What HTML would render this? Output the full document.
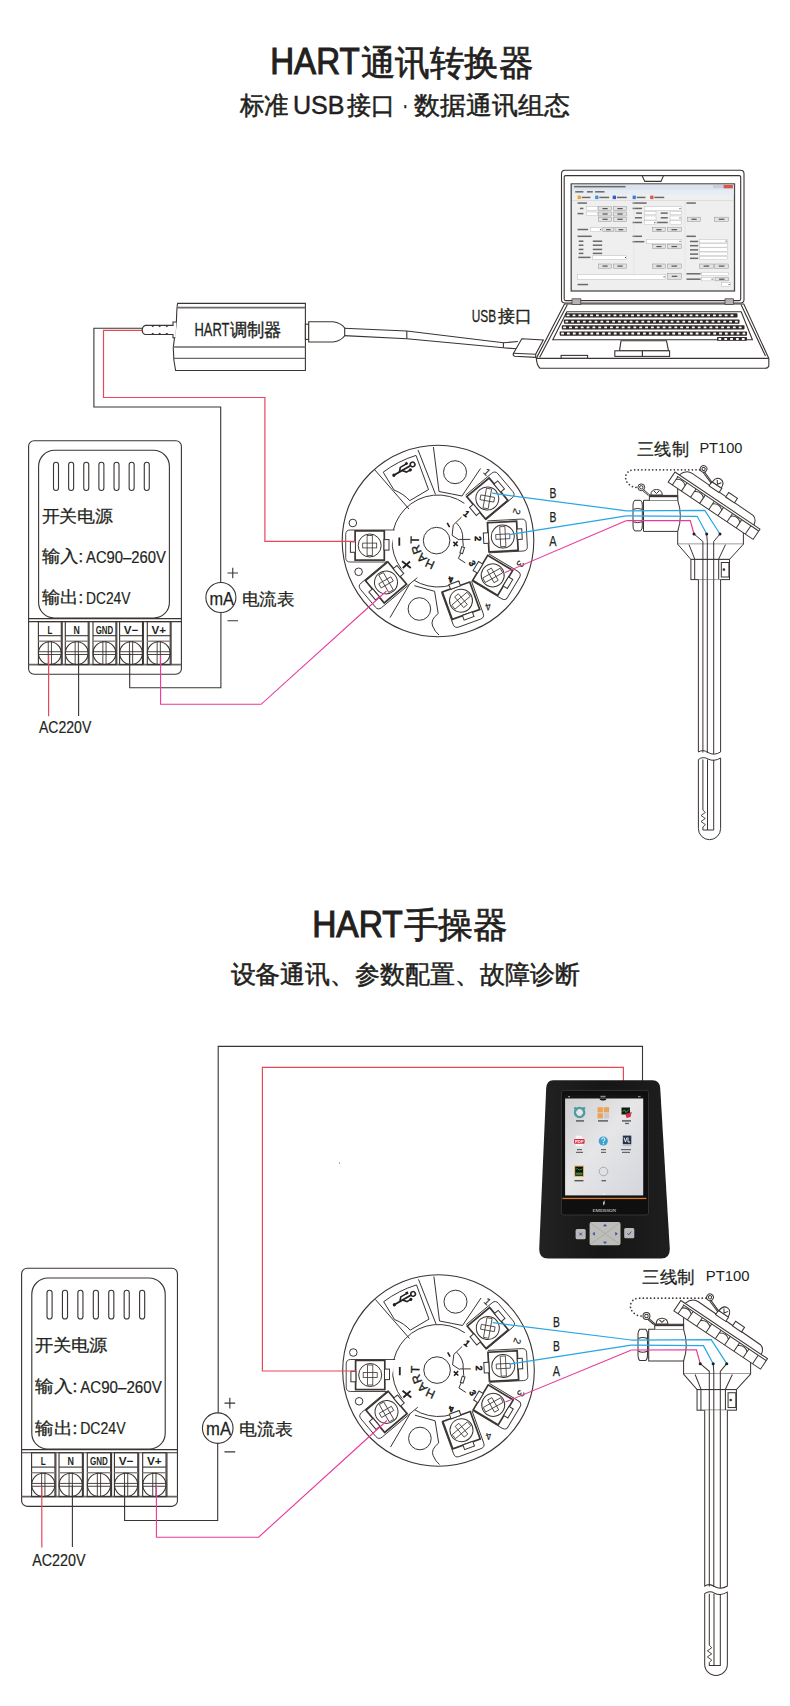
<!DOCTYPE html><html><head><meta charset="utf-8"><style>html,body{margin:0;padding:0;background:#fff;}svg{display:block;font-family:"Liberation Sans",sans-serif;}</style></head><body><svg width="790" height="1706" viewBox="0 0 790 1706"><rect width="790" height="1706" fill="#fff"/><text x="270.2" y="74.4" font-size="37.2" fill="#231f20" stroke="#231f20" stroke-width="1.1" textLength="89.5" lengthAdjust="spacingAndGlyphs" >HART</text>
<text x="360.5" y="74.5" font-size="35" fill="#231f20" stroke="#231f20" stroke-width="0.7" textLength="173" lengthAdjust="spacingAndGlyphs" >通讯转换器</text>
<text x="239.5" y="113.5" font-size="25" fill="#231f20" stroke="#231f20" stroke-width="0.5" textLength="49" lengthAdjust="spacingAndGlyphs" >标准</text>
<text x="293" y="113.5" font-size="25" fill="#231f20" stroke="#231f20" stroke-width="0.45" textLength="51.5" lengthAdjust="spacingAndGlyphs" >USB</text>
<text x="347" y="113.5" font-size="25" fill="#231f20" stroke="#231f20" stroke-width="0.5" textLength="48" lengthAdjust="spacingAndGlyphs" >接口</text>
<text x="402.6" y="113.5" font-size="25" fill="#231f20" stroke="#231f20" stroke-width="0.5" textLength="5.5" lengthAdjust="spacingAndGlyphs" >·</text>
<text x="414" y="113.5" font-size="25" fill="#231f20" stroke="#231f20" stroke-width="0.5" textLength="155.5" lengthAdjust="spacingAndGlyphs" >数据通讯组态</text>
<text x="312.2" y="936.7" font-size="37.2" fill="#231f20" stroke="#231f20" stroke-width="1.1" textLength="90.5" lengthAdjust="spacingAndGlyphs" >HART</text>
<text x="403.5" y="937" font-size="35" fill="#231f20" stroke="#231f20" stroke-width="0.7" textLength="104" lengthAdjust="spacingAndGlyphs" >手操器</text>
<text x="230.5" y="982.5" font-size="25" fill="#231f20" stroke="#231f20" stroke-width="0.5" textLength="349" lengthAdjust="spacingAndGlyphs" >设备通讯、参数配置、故障诊断</text>
<g transform="">
<g fill="none" stroke="#3a3432" stroke-width="1.1">
<rect x="28.6" y="440.8" width="152.8" height="233.4" rx="5.5"/>
<path d="M38.6,602.5 V466.3 A16,16 0 0 1 54.6,450.3 H153.4 A16,16 0 0 1 169.4,466.3 V602.5 A15.5,15.5 0 0 1 153.9,618 H54.1 A15.5,15.5 0 0 1 38.6,602.5 Z"/>
<rect x="53.5" y="462.3" width="5" height="28.2" rx="2.5"/>
<rect x="68.63" y="462.3" width="5" height="28.2" rx="2.5"/>
<rect x="83.76" y="462.3" width="5" height="28.2" rx="2.5"/>
<rect x="98.89" y="462.3" width="5" height="28.2" rx="2.5"/>
<rect x="114.02" y="462.3" width="5" height="28.2" rx="2.5"/>
<rect x="129.15" y="462.3" width="5" height="28.2" rx="2.5"/>
<rect x="144.28" y="462.3" width="5" height="28.2" rx="2.5"/>
<line x1="28.6" y1="618.6" x2="181.4" y2="618.6"/>
<line x1="28.6" y1="621.6" x2="181.4" y2="621.6"/>
<line x1="28.6" y1="664.6" x2="181.4" y2="664.6" stroke-width="1.6" stroke="#6b6462"/>
<rect x="38.4" y="621.6" width="22.9" height="43"/>
<line x1="38.4" y1="635.7" x2="61.3" y2="635.7"/>
<line x1="38.4" y1="641.2" x2="61.3" y2="641.2" stroke="#8a8482" stroke-width="1.4"/>
<line x1="62.2" y1="621.6" x2="62.2" y2="664.6"/>
<line x1="48.25" y1="641.2" x2="48.25" y2="664.6" stroke-width="0.9"/>
<line x1="51.45" y1="641.2" x2="51.45" y2="664.6" stroke-width="0.9"/>
<line x1="38.4" y1="651.7" x2="61.3" y2="651.7" stroke-width="0.9"/>
<line x1="38.4" y1="654.5" x2="61.3" y2="654.5" stroke-width="0.9"/>
<circle cx="49.85" cy="653.1" r="11.4"/>
<rect x="65.3" y="621.6" width="22.9" height="43"/>
<line x1="65.3" y1="635.7" x2="88.2" y2="635.7"/>
<line x1="65.3" y1="641.2" x2="88.2" y2="641.2" stroke="#8a8482" stroke-width="1.4"/>
<line x1="89.1" y1="621.6" x2="89.1" y2="664.6"/>
<line x1="75.15" y1="641.2" x2="75.15" y2="664.6" stroke-width="0.9"/>
<line x1="78.35" y1="641.2" x2="78.35" y2="664.6" stroke-width="0.9"/>
<line x1="65.3" y1="651.7" x2="88.2" y2="651.7" stroke-width="0.9"/>
<line x1="65.3" y1="654.5" x2="88.2" y2="654.5" stroke-width="0.9"/>
<circle cx="76.75" cy="653.1" r="11.4"/>
<rect x="93" y="621.6" width="22.9" height="43"/>
<line x1="93" y1="635.7" x2="115.9" y2="635.7"/>
<line x1="93" y1="641.2" x2="115.9" y2="641.2" stroke="#8a8482" stroke-width="1.4"/>
<line x1="116.8" y1="621.6" x2="116.8" y2="664.6"/>
<line x1="102.85" y1="641.2" x2="102.85" y2="664.6" stroke-width="0.9"/>
<line x1="106.05" y1="641.2" x2="106.05" y2="664.6" stroke-width="0.9"/>
<line x1="93" y1="651.7" x2="115.9" y2="651.7" stroke-width="0.9"/>
<line x1="93" y1="654.5" x2="115.9" y2="654.5" stroke-width="0.9"/>
<circle cx="104.45" cy="653.1" r="11.4"/>
<rect x="119.6" y="621.6" width="22.9" height="43"/>
<line x1="119.6" y1="635.7" x2="142.5" y2="635.7"/>
<line x1="119.6" y1="641.2" x2="142.5" y2="641.2" stroke="#8a8482" stroke-width="1.4"/>
<line x1="143.4" y1="621.6" x2="143.4" y2="664.6"/>
<line x1="129.45" y1="641.2" x2="129.45" y2="664.6" stroke-width="0.9"/>
<line x1="132.65" y1="641.2" x2="132.65" y2="664.6" stroke-width="0.9"/>
<line x1="119.6" y1="651.7" x2="142.5" y2="651.7" stroke-width="0.9"/>
<line x1="119.6" y1="654.5" x2="142.5" y2="654.5" stroke-width="0.9"/>
<circle cx="131.05" cy="653.1" r="11.4"/>
<rect x="147.3" y="621.6" width="22.9" height="43"/>
<line x1="147.3" y1="635.7" x2="170.2" y2="635.7"/>
<line x1="147.3" y1="641.2" x2="170.2" y2="641.2" stroke="#8a8482" stroke-width="1.4"/>
<line x1="171.1" y1="621.6" x2="171.1" y2="664.6"/>
<line x1="157.15" y1="641.2" x2="157.15" y2="664.6" stroke-width="0.9"/>
<line x1="160.35" y1="641.2" x2="160.35" y2="664.6" stroke-width="0.9"/>
<line x1="147.3" y1="651.7" x2="170.2" y2="651.7" stroke-width="0.9"/>
<line x1="147.3" y1="654.5" x2="170.2" y2="654.5" stroke-width="0.9"/>
<circle cx="158.75" cy="653.1" r="11.4"/>
</g>
<text x="41.5" y="521.8" font-size="17" fill="#231f20" stroke="#231f20" stroke-width="0.25" textLength="71.5" lengthAdjust="spacingAndGlyphs" >开关电源</text>
<text x="41.5" y="562" font-size="17" fill="#231f20" stroke="#231f20" stroke-width="0.25" textLength="42" lengthAdjust="spacingAndGlyphs" >输入:</text>
<text x="86" y="562.8" font-size="16.8" fill="#231f20" stroke="#231f20" stroke-width="0.2" textLength="80" lengthAdjust="spacingAndGlyphs" >AC90–260V</text>
<text x="41.5" y="603" font-size="17" fill="#231f20" stroke="#231f20" stroke-width="0.25" textLength="42" lengthAdjust="spacingAndGlyphs" >输出:</text>
<text x="86" y="603.6" font-size="16.8" fill="#231f20" stroke="#231f20" stroke-width="0.2" textLength="44.5" lengthAdjust="spacingAndGlyphs" >DC24V</text>
<text x="47.4" y="634" font-size="11" fill="#231f20" font-weight="bold" textLength="4.9" lengthAdjust="spacingAndGlyphs" >L</text>
<text x="73.6" y="634" font-size="11" fill="#231f20" font-weight="bold" textLength="6.3" lengthAdjust="spacingAndGlyphs" >N</text>
<text x="95.7" y="634" font-size="11" fill="#231f20" font-weight="bold" textLength="17.5" lengthAdjust="spacingAndGlyphs" >GND</text>
<text x="123.8" y="634" font-size="11" fill="#231f20" font-weight="bold" textLength="14.5" lengthAdjust="spacingAndGlyphs" >V−</text>
<text x="151.5" y="634" font-size="11" fill="#231f20" font-weight="bold" textLength="14.5" lengthAdjust="spacingAndGlyphs" >V+</text>
<text x="39" y="733" font-size="17" fill="#231f20" stroke="#231f20" stroke-width="0.2" textLength="52.3" lengthAdjust="spacingAndGlyphs" >AC220V</text>
<circle cx="220.9" cy="597.5" r="15" fill="#fff" stroke="#3a3432" stroke-width="1.1"/>
<text x="209.5" y="604.5" font-size="18.5" fill="#231f20" stroke="#231f20" stroke-width="0.25" textLength="24.5" lengthAdjust="spacingAndGlyphs" >mA</text>
<path d="M227.5,573 H238 M232.75,567.8 V578.2 M227.5,620.8 H238" stroke="#3a3432" stroke-width="1.1" fill="none"/>
<text x="242" y="604.5" font-size="17" fill="#231f20" stroke="#231f20" stroke-width="0.25" textLength="52.5" lengthAdjust="spacingAndGlyphs" >电流表</text>
</g>
<g transform="matrix(1.02,0,0,1.02,-7.572,818.68)">
<g fill="none" stroke="#3a3432" stroke-width="1.1">
<rect x="28.6" y="440.8" width="152.8" height="233.4" rx="5.5"/>
<path d="M38.6,602.5 V466.3 A16,16 0 0 1 54.6,450.3 H153.4 A16,16 0 0 1 169.4,466.3 V602.5 A15.5,15.5 0 0 1 153.9,618 H54.1 A15.5,15.5 0 0 1 38.6,602.5 Z"/>
<rect x="53.5" y="462.3" width="5" height="28.2" rx="2.5"/>
<rect x="68.63" y="462.3" width="5" height="28.2" rx="2.5"/>
<rect x="83.76" y="462.3" width="5" height="28.2" rx="2.5"/>
<rect x="98.89" y="462.3" width="5" height="28.2" rx="2.5"/>
<rect x="114.02" y="462.3" width="5" height="28.2" rx="2.5"/>
<rect x="129.15" y="462.3" width="5" height="28.2" rx="2.5"/>
<rect x="144.28" y="462.3" width="5" height="28.2" rx="2.5"/>
<line x1="28.6" y1="618.6" x2="181.4" y2="618.6"/>
<line x1="28.6" y1="621.6" x2="181.4" y2="621.6"/>
<line x1="28.6" y1="664.6" x2="181.4" y2="664.6" stroke-width="1.6" stroke="#6b6462"/>
<rect x="38.4" y="621.6" width="22.9" height="43"/>
<line x1="38.4" y1="635.7" x2="61.3" y2="635.7"/>
<line x1="38.4" y1="641.2" x2="61.3" y2="641.2" stroke="#8a8482" stroke-width="1.4"/>
<line x1="62.2" y1="621.6" x2="62.2" y2="664.6"/>
<line x1="48.25" y1="641.2" x2="48.25" y2="664.6" stroke-width="0.9"/>
<line x1="51.45" y1="641.2" x2="51.45" y2="664.6" stroke-width="0.9"/>
<line x1="38.4" y1="651.7" x2="61.3" y2="651.7" stroke-width="0.9"/>
<line x1="38.4" y1="654.5" x2="61.3" y2="654.5" stroke-width="0.9"/>
<circle cx="49.85" cy="653.1" r="11.4"/>
<rect x="65.3" y="621.6" width="22.9" height="43"/>
<line x1="65.3" y1="635.7" x2="88.2" y2="635.7"/>
<line x1="65.3" y1="641.2" x2="88.2" y2="641.2" stroke="#8a8482" stroke-width="1.4"/>
<line x1="89.1" y1="621.6" x2="89.1" y2="664.6"/>
<line x1="75.15" y1="641.2" x2="75.15" y2="664.6" stroke-width="0.9"/>
<line x1="78.35" y1="641.2" x2="78.35" y2="664.6" stroke-width="0.9"/>
<line x1="65.3" y1="651.7" x2="88.2" y2="651.7" stroke-width="0.9"/>
<line x1="65.3" y1="654.5" x2="88.2" y2="654.5" stroke-width="0.9"/>
<circle cx="76.75" cy="653.1" r="11.4"/>
<rect x="93" y="621.6" width="22.9" height="43"/>
<line x1="93" y1="635.7" x2="115.9" y2="635.7"/>
<line x1="93" y1="641.2" x2="115.9" y2="641.2" stroke="#8a8482" stroke-width="1.4"/>
<line x1="116.8" y1="621.6" x2="116.8" y2="664.6"/>
<line x1="102.85" y1="641.2" x2="102.85" y2="664.6" stroke-width="0.9"/>
<line x1="106.05" y1="641.2" x2="106.05" y2="664.6" stroke-width="0.9"/>
<line x1="93" y1="651.7" x2="115.9" y2="651.7" stroke-width="0.9"/>
<line x1="93" y1="654.5" x2="115.9" y2="654.5" stroke-width="0.9"/>
<circle cx="104.45" cy="653.1" r="11.4"/>
<rect x="119.6" y="621.6" width="22.9" height="43"/>
<line x1="119.6" y1="635.7" x2="142.5" y2="635.7"/>
<line x1="119.6" y1="641.2" x2="142.5" y2="641.2" stroke="#8a8482" stroke-width="1.4"/>
<line x1="143.4" y1="621.6" x2="143.4" y2="664.6"/>
<line x1="129.45" y1="641.2" x2="129.45" y2="664.6" stroke-width="0.9"/>
<line x1="132.65" y1="641.2" x2="132.65" y2="664.6" stroke-width="0.9"/>
<line x1="119.6" y1="651.7" x2="142.5" y2="651.7" stroke-width="0.9"/>
<line x1="119.6" y1="654.5" x2="142.5" y2="654.5" stroke-width="0.9"/>
<circle cx="131.05" cy="653.1" r="11.4"/>
<rect x="147.3" y="621.6" width="22.9" height="43"/>
<line x1="147.3" y1="635.7" x2="170.2" y2="635.7"/>
<line x1="147.3" y1="641.2" x2="170.2" y2="641.2" stroke="#8a8482" stroke-width="1.4"/>
<line x1="171.1" y1="621.6" x2="171.1" y2="664.6"/>
<line x1="157.15" y1="641.2" x2="157.15" y2="664.6" stroke-width="0.9"/>
<line x1="160.35" y1="641.2" x2="160.35" y2="664.6" stroke-width="0.9"/>
<line x1="147.3" y1="651.7" x2="170.2" y2="651.7" stroke-width="0.9"/>
<line x1="147.3" y1="654.5" x2="170.2" y2="654.5" stroke-width="0.9"/>
<circle cx="158.75" cy="653.1" r="11.4"/>
</g>
<text x="41.5" y="521.8" font-size="17" fill="#231f20" stroke="#231f20" stroke-width="0.25" textLength="71.5" lengthAdjust="spacingAndGlyphs" >开关电源</text>
<text x="41.5" y="562" font-size="17" fill="#231f20" stroke="#231f20" stroke-width="0.25" textLength="42" lengthAdjust="spacingAndGlyphs" >输入:</text>
<text x="86" y="562.8" font-size="16.8" fill="#231f20" stroke="#231f20" stroke-width="0.2" textLength="80" lengthAdjust="spacingAndGlyphs" >AC90–260V</text>
<text x="41.5" y="603" font-size="17" fill="#231f20" stroke="#231f20" stroke-width="0.25" textLength="42" lengthAdjust="spacingAndGlyphs" >输出:</text>
<text x="86" y="603.6" font-size="16.8" fill="#231f20" stroke="#231f20" stroke-width="0.2" textLength="44.5" lengthAdjust="spacingAndGlyphs" >DC24V</text>
<text x="47.4" y="634" font-size="11" fill="#231f20" font-weight="bold" textLength="4.9" lengthAdjust="spacingAndGlyphs" >L</text>
<text x="73.6" y="634" font-size="11" fill="#231f20" font-weight="bold" textLength="6.3" lengthAdjust="spacingAndGlyphs" >N</text>
<text x="95.7" y="634" font-size="11" fill="#231f20" font-weight="bold" textLength="17.5" lengthAdjust="spacingAndGlyphs" >GND</text>
<text x="123.8" y="634" font-size="11" fill="#231f20" font-weight="bold" textLength="14.5" lengthAdjust="spacingAndGlyphs" >V−</text>
<text x="151.5" y="634" font-size="11" fill="#231f20" font-weight="bold" textLength="14.5" lengthAdjust="spacingAndGlyphs" >V+</text>
<text x="39" y="733" font-size="17" fill="#231f20" stroke="#231f20" stroke-width="0.2" textLength="52.3" lengthAdjust="spacingAndGlyphs" >AC220V</text>
<circle cx="220.9" cy="597.5" r="15" fill="#fff" stroke="#3a3432" stroke-width="1.1"/>
<text x="209.5" y="604.5" font-size="18.5" fill="#231f20" stroke="#231f20" stroke-width="0.25" textLength="24.5" lengthAdjust="spacingAndGlyphs" >mA</text>
<path d="M227.5,573 H238 M232.75,567.8 V578.2 M227.5,620.8 H238" stroke="#3a3432" stroke-width="1.1" fill="none"/>
<text x="242" y="604.5" font-size="17" fill="#231f20" stroke="#231f20" stroke-width="0.25" textLength="52.5" lengthAdjust="spacingAndGlyphs" >电流表</text>
</g>
<g transform="">
<circle cx="438.0" cy="541.0" r="95.8" fill="#fff" stroke="#3a3432" stroke-width="1.1"/>
<path d="M459.60,581.62 A46,46 0 1 1 464.38,503.32" fill="none" stroke="#3a3432" stroke-width="1"/>
<path d="M374.9,470 L409,509 M418,449.9 L435.5,494.4 M433.4,447 L439,491.5 M480.5,468.5 L462,496" fill="none" stroke="#3a3432" stroke-width="1"/>
<path d="M383.2,472.2 Q398,461 416,455.4 L428.5,489.6 L409.7,500.7 Q404,494 394,490 Z" fill="none" stroke="#3a3432" stroke-width="1"/>
<path d="M439,491.5 Q452,494 462,496" fill="none" stroke="#3a3432" stroke-width="1"/>
<circle cx="455" cy="472.2" r="11.5" fill="none" stroke="#3a3432" stroke-width="1"/>
<g transform="translate(403.8,469.5) rotate(-30)" fill="none" stroke="#231f20" stroke-width="2" stroke-linecap="round"><path d="M-11,0 H7"/><path d="M-5,0 L-2,-3.6 H4" stroke-width="1.6"/><path d="M-2,0 L1,3.6 H4.5" stroke-width="1.6"/><circle cx="10.2" cy="0" r="2.3" stroke-width="1.5"/><circle cx="-11.5" cy="0" r="1.6" fill="#231f20" stroke="none"/><rect x="4" y="-5.2" width="2.6" height="2.6" fill="#231f20" stroke="none"/><circle cx="5.5" cy="3.6" r="1.6" fill="#231f20" stroke="none"/></g>
<path d="M412.3,579.6 L390,617.6 M414.4,585.7 L434.6,591.3 L438.2,613.5 Q430,620 432.6,626 Q435,632 439,635" fill="none" stroke="#3a3432" stroke-width="1"/>
<circle cx="419.4" cy="609" r="11.3" fill="none" stroke="#3a3432" stroke-width="1"/>
<circle cx="352.8" cy="523" r="3.8" fill="none" stroke="#3a3432" stroke-width="1"/>
<circle cx="358.6" cy="571.8" r="3.8" fill="none" stroke="#3a3432" stroke-width="1"/>
<circle cx="436.6" cy="540.6" r="13.3" fill="#fff" stroke="#3a3432" stroke-width="1"/>
<g transform="translate(369.7,545.5) rotate(180)">
<path d="M-18.5,-16.5 H19.5 Q24,-16.5 24,-12 V11 Q24,15.5 19.5,15.5 H-25" fill="#fff" stroke="#3a3432" stroke-width="0.9"/>
<rect x="-14.6" y="-14.6" width="29.2" height="29.2" fill="#fff" stroke="#3a3432" stroke-width="1.7"/>
<rect x="14.3" y="-6.8" width="5" height="10.5" fill="#fff" stroke="#3a3432" stroke-width="1"/>
<rect x="-19.3" y="-4.6" width="5" height="10.5" fill="#fff" stroke="#3a3432" stroke-width="1"/>
<circle r="11.5" fill="#fff" stroke="#3a3432" stroke-width="1"/>
<g transform="rotate(0)" fill="none" stroke="#3a3432" stroke-width="0.8">
<rect x="-2.6" y="-10" width="5.2" height="20"/><rect x="-7" y="-2.4" width="14" height="4.8"/>
</g></g>
<g transform="translate(386,582.4) rotate(140)">
<path d="M-27,-16.5 H19.5 Q24,-16.5 24,-12 V11 Q24,15.5 19.5,15.5 H-14.5" fill="#fff" stroke="#3a3432" stroke-width="0.9"/>
<rect x="-14.6" y="-14.6" width="29.2" height="29.2" fill="#fff" stroke="#3a3432" stroke-width="1.7"/>
<rect x="14.3" y="-6.8" width="5" height="10.5" fill="#fff" stroke="#3a3432" stroke-width="1"/>
<rect x="-19.3" y="-4.6" width="5" height="10.5" fill="#fff" stroke="#3a3432" stroke-width="1"/>
<circle r="11.5" fill="#fff" stroke="#3a3432" stroke-width="1"/>
<g transform="rotate(10)" fill="none" stroke="#3a3432" stroke-width="0.8">
<rect x="-2.6" y="-10" width="5.2" height="20"/><rect x="-7" y="-2.4" width="14" height="4.8"/>
</g></g>
<g transform="translate(487.3,498.5) rotate(-40)">
<path d="M-14.5,-16.5 H19.5 Q24,-16.5 24,-12 V11 Q24,15.5 19.5,15.5 H-14.5" fill="#fff" stroke="#3a3432" stroke-width="0.9"/>
<rect x="-14.6" y="-14.6" width="29.2" height="29.2" fill="#fff" stroke="#3a3432" stroke-width="1.7"/>
<rect x="14.3" y="-6.8" width="5" height="10.5" fill="#fff" stroke="#3a3432" stroke-width="1"/>
<rect x="-19.3" y="-4.6" width="5" height="10.5" fill="#fff" stroke="#3a3432" stroke-width="1"/>
<circle r="11.5" fill="#fff" stroke="#3a3432" stroke-width="1"/>
<g transform="rotate(50)" fill="none" stroke="#3a3432" stroke-width="0.8">
<rect x="-2.6" y="-10" width="5.2" height="20"/><rect x="-7" y="-2.4" width="14" height="4.8"/>
</g></g>
<g transform="translate(502.8,536.6) rotate(-3)">
<path d="M-14.5,-16.5 H19.5 Q24,-16.5 24,-12 V11 Q24,15.5 19.5,15.5 H-14.5" fill="#fff" stroke="#3a3432" stroke-width="0.9"/>
<rect x="-14.6" y="-14.6" width="29.2" height="29.2" fill="#fff" stroke="#3a3432" stroke-width="1.7"/>
<rect x="14.3" y="-6.8" width="5" height="10.5" fill="#fff" stroke="#3a3432" stroke-width="1"/>
<rect x="-19.3" y="-4.6" width="5" height="10.5" fill="#fff" stroke="#3a3432" stroke-width="1"/>
<circle r="11.5" fill="#fff" stroke="#3a3432" stroke-width="1"/>
<g transform="rotate(0)" fill="none" stroke="#3a3432" stroke-width="0.8">
<rect x="-2.6" y="-10" width="5.2" height="20"/><rect x="-7" y="-2.4" width="14" height="4.8"/>
</g></g>
<g transform="translate(492.7,575.4) rotate(31)">
<path d="M-14.5,-16.5 H19.5 Q24,-16.5 24,-12 V11 Q24,15.5 19.5,15.5 H-14.5" fill="#fff" stroke="#3a3432" stroke-width="0.9"/>
<rect x="-14.6" y="-14.6" width="29.2" height="29.2" fill="#fff" stroke="#3a3432" stroke-width="1.7"/>
<rect x="14.3" y="-6.8" width="5" height="10.5" fill="#fff" stroke="#3a3432" stroke-width="1"/>
<rect x="-19.3" y="-4.6" width="5" height="10.5" fill="#fff" stroke="#3a3432" stroke-width="1"/>
<circle r="11.5" fill="#fff" stroke="#3a3432" stroke-width="1"/>
<g transform="rotate(30)" fill="none" stroke="#3a3432" stroke-width="0.8">
<rect x="-2.6" y="-10" width="5.2" height="20"/><rect x="-7" y="-2.4" width="14" height="4.8"/>
</g></g>
<g transform="translate(461,600.7) rotate(70)">
<path d="M-14.5,-16.5 H19.5 Q24,-16.5 24,-12 V11 Q24,15.5 19.5,15.5 H-14.5" fill="#fff" stroke="#3a3432" stroke-width="0.9"/>
<rect x="-14.6" y="-14.6" width="29.2" height="29.2" fill="#fff" stroke="#3a3432" stroke-width="1.7"/>
<rect x="14.3" y="-6.8" width="5" height="10.5" fill="#fff" stroke="#3a3432" stroke-width="1"/>
<rect x="-19.3" y="-4.6" width="5" height="10.5" fill="#fff" stroke="#3a3432" stroke-width="1"/>
<circle r="11.5" fill="#fff" stroke="#3a3432" stroke-width="1"/>
<g transform="rotate(-20)" fill="none" stroke="#3a3432" stroke-width="0.8">
<rect x="-2.6" y="-10" width="5.2" height="20"/><rect x="-7" y="-2.4" width="14" height="4.8"/>
</g></g>
<path d="M461.6,517 L453.3,525 L452.1,535.4 L459.2,540 M459.2,539.4 H470.3 M456.3,522.8 Q463.5,530 462.7,539.1 L463.3,546.3 M460.7,553.3 L458.4,558.4 L465.3,562.9" fill="none" stroke="#3a3432" stroke-width="1" stroke-width="0.9"/>
<rect x="-1.4" y="-3.2" width="2.8" height="6.4" transform="translate(462.2,550.2) rotate(18)" fill="none" stroke="#3a3432" stroke-width="1" stroke-width="0.9"/>
<path id="hp231" d="M440.33,562.09 A21.5,21.5 0 0 1 420.13,533.25" fill="none"/>
<text font-size="12" fill="#231f20" stroke="#231f20" stroke-width="0.35" letter-spacing="0.2"><textPath href="#hp231" startOffset="4.6">HART</textPath></text>
<path d="M399.3,537.5 V545.8 M402,561.2 L410.8,568 M402.8,568 L410,561.5" stroke="#231f20" stroke-width="1.8" fill="none"/>
<path d="M447.2,522.8 L449.6,527.2 M453.3,541.8 L457.8,546 M453.6,546.2 L457.6,541.6" stroke="#231f20" stroke-width="1.6" fill="none"/>
<text x="0" y="0" font-size="8.5" fill="#231f20" stroke="#231f20" stroke-width="0.7" text-anchor="middle" transform="translate(464.6,516) rotate(40)">1</text>
<text x="0" y="0" font-size="8.5" fill="#231f20" stroke="#231f20" stroke-width="0.7" text-anchor="middle" transform="translate(475.4,538.7) rotate(90)">2</text>
<text x="0" y="0" font-size="8.5" fill="#231f20" stroke="#231f20" stroke-width="0.7" text-anchor="middle" transform="translate(469.7,564.7) rotate(60)">3</text>
<text x="0" y="0" font-size="8.5" fill="#231f20" stroke="#231f20" stroke-width="0.7" text-anchor="middle" transform="translate(450.5,576.7) rotate(170)">4</text>
<text x="0" y="0" font-size="10" fill="#231f20" stroke="#231f20" stroke-width="0.15" text-anchor="middle" transform="translate(484.5,474.5) rotate(45)">1</text>
<text x="0" y="0" font-size="10" fill="#231f20" stroke="#231f20" stroke-width="0.15" text-anchor="middle" transform="translate(513.6,510.4) rotate(110)">2</text>
<text x="0" y="0" font-size="10" fill="#231f20" stroke="#231f20" stroke-width="0.15" text-anchor="middle" transform="translate(517.4,562.2) rotate(120)">3</text>
<text x="0" y="0" font-size="10" fill="#231f20" stroke="#231f20" stroke-width="0.15" text-anchor="middle" transform="translate(487.3,603.5) rotate(165)">4</text>
</g>
<g transform="translate(0.5,829.5)">
<circle cx="438.0" cy="541.0" r="95.8" fill="#fff" stroke="#3a3432" stroke-width="1.1"/>
<path d="M459.60,581.62 A46,46 0 1 1 464.38,503.32" fill="none" stroke="#3a3432" stroke-width="1"/>
<path d="M374.9,470 L409,509 M418,449.9 L435.5,494.4 M433.4,447 L439,491.5 M480.5,468.5 L462,496" fill="none" stroke="#3a3432" stroke-width="1"/>
<path d="M383.2,472.2 Q398,461 416,455.4 L428.5,489.6 L409.7,500.7 Q404,494 394,490 Z" fill="none" stroke="#3a3432" stroke-width="1"/>
<path d="M439,491.5 Q452,494 462,496" fill="none" stroke="#3a3432" stroke-width="1"/>
<circle cx="455" cy="472.2" r="11.5" fill="none" stroke="#3a3432" stroke-width="1"/>
<g transform="translate(403.8,469.5) rotate(-30)" fill="none" stroke="#231f20" stroke-width="2" stroke-linecap="round"><path d="M-11,0 H7"/><path d="M-5,0 L-2,-3.6 H4" stroke-width="1.6"/><path d="M-2,0 L1,3.6 H4.5" stroke-width="1.6"/><circle cx="10.2" cy="0" r="2.3" stroke-width="1.5"/><circle cx="-11.5" cy="0" r="1.6" fill="#231f20" stroke="none"/><rect x="4" y="-5.2" width="2.6" height="2.6" fill="#231f20" stroke="none"/><circle cx="5.5" cy="3.6" r="1.6" fill="#231f20" stroke="none"/></g>
<path d="M412.3,579.6 L390,617.6 M414.4,585.7 L434.6,591.3 L438.2,613.5 Q430,620 432.6,626 Q435,632 439,635" fill="none" stroke="#3a3432" stroke-width="1"/>
<circle cx="419.4" cy="609" r="11.3" fill="none" stroke="#3a3432" stroke-width="1"/>
<circle cx="352.8" cy="523" r="3.8" fill="none" stroke="#3a3432" stroke-width="1"/>
<circle cx="358.6" cy="571.8" r="3.8" fill="none" stroke="#3a3432" stroke-width="1"/>
<circle cx="436.6" cy="540.6" r="13.3" fill="#fff" stroke="#3a3432" stroke-width="1"/>
<g transform="translate(369.7,545.5) rotate(180)">
<path d="M-18.5,-16.5 H19.5 Q24,-16.5 24,-12 V11 Q24,15.5 19.5,15.5 H-25" fill="#fff" stroke="#3a3432" stroke-width="0.9"/>
<rect x="-14.6" y="-14.6" width="29.2" height="29.2" fill="#fff" stroke="#3a3432" stroke-width="1.7"/>
<rect x="14.3" y="-6.8" width="5" height="10.5" fill="#fff" stroke="#3a3432" stroke-width="1"/>
<rect x="-19.3" y="-4.6" width="5" height="10.5" fill="#fff" stroke="#3a3432" stroke-width="1"/>
<circle r="11.5" fill="#fff" stroke="#3a3432" stroke-width="1"/>
<g transform="rotate(0)" fill="none" stroke="#3a3432" stroke-width="0.8">
<rect x="-2.6" y="-10" width="5.2" height="20"/><rect x="-7" y="-2.4" width="14" height="4.8"/>
</g></g>
<g transform="translate(386,582.4) rotate(140)">
<path d="M-27,-16.5 H19.5 Q24,-16.5 24,-12 V11 Q24,15.5 19.5,15.5 H-14.5" fill="#fff" stroke="#3a3432" stroke-width="0.9"/>
<rect x="-14.6" y="-14.6" width="29.2" height="29.2" fill="#fff" stroke="#3a3432" stroke-width="1.7"/>
<rect x="14.3" y="-6.8" width="5" height="10.5" fill="#fff" stroke="#3a3432" stroke-width="1"/>
<rect x="-19.3" y="-4.6" width="5" height="10.5" fill="#fff" stroke="#3a3432" stroke-width="1"/>
<circle r="11.5" fill="#fff" stroke="#3a3432" stroke-width="1"/>
<g transform="rotate(10)" fill="none" stroke="#3a3432" stroke-width="0.8">
<rect x="-2.6" y="-10" width="5.2" height="20"/><rect x="-7" y="-2.4" width="14" height="4.8"/>
</g></g>
<g transform="translate(487.3,498.5) rotate(-40)">
<path d="M-14.5,-16.5 H19.5 Q24,-16.5 24,-12 V11 Q24,15.5 19.5,15.5 H-14.5" fill="#fff" stroke="#3a3432" stroke-width="0.9"/>
<rect x="-14.6" y="-14.6" width="29.2" height="29.2" fill="#fff" stroke="#3a3432" stroke-width="1.7"/>
<rect x="14.3" y="-6.8" width="5" height="10.5" fill="#fff" stroke="#3a3432" stroke-width="1"/>
<rect x="-19.3" y="-4.6" width="5" height="10.5" fill="#fff" stroke="#3a3432" stroke-width="1"/>
<circle r="11.5" fill="#fff" stroke="#3a3432" stroke-width="1"/>
<g transform="rotate(50)" fill="none" stroke="#3a3432" stroke-width="0.8">
<rect x="-2.6" y="-10" width="5.2" height="20"/><rect x="-7" y="-2.4" width="14" height="4.8"/>
</g></g>
<g transform="translate(502.8,536.6) rotate(-3)">
<path d="M-14.5,-16.5 H19.5 Q24,-16.5 24,-12 V11 Q24,15.5 19.5,15.5 H-14.5" fill="#fff" stroke="#3a3432" stroke-width="0.9"/>
<rect x="-14.6" y="-14.6" width="29.2" height="29.2" fill="#fff" stroke="#3a3432" stroke-width="1.7"/>
<rect x="14.3" y="-6.8" width="5" height="10.5" fill="#fff" stroke="#3a3432" stroke-width="1"/>
<rect x="-19.3" y="-4.6" width="5" height="10.5" fill="#fff" stroke="#3a3432" stroke-width="1"/>
<circle r="11.5" fill="#fff" stroke="#3a3432" stroke-width="1"/>
<g transform="rotate(0)" fill="none" stroke="#3a3432" stroke-width="0.8">
<rect x="-2.6" y="-10" width="5.2" height="20"/><rect x="-7" y="-2.4" width="14" height="4.8"/>
</g></g>
<g transform="translate(492.7,575.4) rotate(31)">
<path d="M-14.5,-16.5 H19.5 Q24,-16.5 24,-12 V11 Q24,15.5 19.5,15.5 H-14.5" fill="#fff" stroke="#3a3432" stroke-width="0.9"/>
<rect x="-14.6" y="-14.6" width="29.2" height="29.2" fill="#fff" stroke="#3a3432" stroke-width="1.7"/>
<rect x="14.3" y="-6.8" width="5" height="10.5" fill="#fff" stroke="#3a3432" stroke-width="1"/>
<rect x="-19.3" y="-4.6" width="5" height="10.5" fill="#fff" stroke="#3a3432" stroke-width="1"/>
<circle r="11.5" fill="#fff" stroke="#3a3432" stroke-width="1"/>
<g transform="rotate(30)" fill="none" stroke="#3a3432" stroke-width="0.8">
<rect x="-2.6" y="-10" width="5.2" height="20"/><rect x="-7" y="-2.4" width="14" height="4.8"/>
</g></g>
<g transform="translate(461,600.7) rotate(70)">
<path d="M-14.5,-16.5 H19.5 Q24,-16.5 24,-12 V11 Q24,15.5 19.5,15.5 H-14.5" fill="#fff" stroke="#3a3432" stroke-width="0.9"/>
<rect x="-14.6" y="-14.6" width="29.2" height="29.2" fill="#fff" stroke="#3a3432" stroke-width="1.7"/>
<rect x="14.3" y="-6.8" width="5" height="10.5" fill="#fff" stroke="#3a3432" stroke-width="1"/>
<rect x="-19.3" y="-4.6" width="5" height="10.5" fill="#fff" stroke="#3a3432" stroke-width="1"/>
<circle r="11.5" fill="#fff" stroke="#3a3432" stroke-width="1"/>
<g transform="rotate(-20)" fill="none" stroke="#3a3432" stroke-width="0.8">
<rect x="-2.6" y="-10" width="5.2" height="20"/><rect x="-7" y="-2.4" width="14" height="4.8"/>
</g></g>
<path d="M461.6,517 L453.3,525 L452.1,535.4 L459.2,540 M459.2,539.4 H470.3 M456.3,522.8 Q463.5,530 462.7,539.1 L463.3,546.3 M460.7,553.3 L458.4,558.4 L465.3,562.9" fill="none" stroke="#3a3432" stroke-width="1" stroke-width="0.9"/>
<rect x="-1.4" y="-3.2" width="2.8" height="6.4" transform="translate(462.2,550.2) rotate(18)" fill="none" stroke="#3a3432" stroke-width="1" stroke-width="0.9"/>
<path id="hp313" d="M440.33,562.09 A21.5,21.5 0 0 1 420.13,533.25" fill="none"/>
<text font-size="12" fill="#231f20" stroke="#231f20" stroke-width="0.35" letter-spacing="0.2"><textPath href="#hp313" startOffset="4.6">HART</textPath></text>
<path d="M399.3,537.5 V545.8 M402,561.2 L410.8,568 M402.8,568 L410,561.5" stroke="#231f20" stroke-width="1.8" fill="none"/>
<path d="M447.2,522.8 L449.6,527.2 M453.3,541.8 L457.8,546 M453.6,546.2 L457.6,541.6" stroke="#231f20" stroke-width="1.6" fill="none"/>
<text x="0" y="0" font-size="8.5" fill="#231f20" stroke="#231f20" stroke-width="0.7" text-anchor="middle" transform="translate(464.6,516) rotate(40)">1</text>
<text x="0" y="0" font-size="8.5" fill="#231f20" stroke="#231f20" stroke-width="0.7" text-anchor="middle" transform="translate(475.4,538.7) rotate(90)">2</text>
<text x="0" y="0" font-size="8.5" fill="#231f20" stroke="#231f20" stroke-width="0.7" text-anchor="middle" transform="translate(469.7,564.7) rotate(60)">3</text>
<text x="0" y="0" font-size="8.5" fill="#231f20" stroke="#231f20" stroke-width="0.7" text-anchor="middle" transform="translate(450.5,576.7) rotate(170)">4</text>
<text x="0" y="0" font-size="10" fill="#231f20" stroke="#231f20" stroke-width="0.15" text-anchor="middle" transform="translate(484.5,474.5) rotate(45)">1</text>
<text x="0" y="0" font-size="10" fill="#231f20" stroke="#231f20" stroke-width="0.15" text-anchor="middle" transform="translate(513.6,510.4) rotate(110)">2</text>
<text x="0" y="0" font-size="10" fill="#231f20" stroke="#231f20" stroke-width="0.15" text-anchor="middle" transform="translate(517.4,562.2) rotate(120)">3</text>
<text x="0" y="0" font-size="10" fill="#231f20" stroke="#231f20" stroke-width="0.15" text-anchor="middle" transform="translate(487.3,603.5) rotate(165)">4</text>
</g>
<g transform="">
<text x="637.2" y="454.5" font-size="17" fill="#231f20" stroke="#231f20" stroke-width="0.25" textLength="51.5" lengthAdjust="spacingAndGlyphs" >三线制</text>
<text x="699.4" y="453.2" font-size="15" fill="#231f20" textLength="43" lengthAdjust="spacingAndGlyphs" >PT100</text>
<path d="M636,487.3 L632,486.5 Q624,482 626,475 Q628,470 634,469.8 L700,469.8" fill="none" stroke="#3a3432" stroke-width="1.7" stroke-dasharray="0.01 3.6" stroke-linecap="round"/>
<path d="M677.7,486 V544.2 H743.4 V530 Z" fill="#fff" stroke="#3a3432" stroke-width="1"/>
<path d="M677.7,544.2 L690.9,559.4 H729.5 L743.4,544.2 M689,544.6 L694.7,559 M725.5,544.6 L718.7,559" fill="#fff" stroke="#3a3432" stroke-width="1"/>
<rect x="690.9" y="559.4" width="38.6" height="20.2" fill="#fff" stroke="#3a3432" stroke-width="1"/>
<path d="M694.7,559.4 V579.6 M718.7,559.4 V579.6" fill="none" stroke="#3a3432" stroke-width="1"/>
<rect x="721.3" y="562.5" width="7.6" height="14.5" fill="#fff" stroke="#3a3432" stroke-width="1"/>
<circle cx="723.9" cy="569.6" r="1.3" fill="#3a3432"/>
<path d="M698.4,579.6 V752 Q703,749 708,752.5 Q714,756 720.6,752 V579.6" fill="#fff" stroke="#3a3432" stroke-width="1"/>
<path d="M698.4,759.5 Q703,756 708,759 Q714,762 720.6,758 V828.6 A11.1,11.1 0 0 1 698.4,828.6 Z" fill="#fff" stroke="#3a3432" stroke-width="1"/>
<path d="M702.9,579.6 V752.5 M707.3,579.6 V753 M713.7,579.6 V754 M702.9,759.5 V810 M707.5,759.5 V830 M713.7,759.8 V830 H702.9 V827" fill="none" stroke="#3a3432" stroke-width="1" stroke-width="0.9"/>
<path d="M702.9,810 L705.3,812.5 L701,815.5 L705.3,818.5 L701,821.5 L705.3,824.5 L702.9,827" fill="none" stroke="#3a3432" stroke-width="0.9"/>
<path d="M643.5,500.3 H677.7 Q683,515.8 677.7,531.4 H643.5 Z" fill="#fff" stroke="#3a3432" stroke-width="1"/>
<path d="M649.4,500.3 V495.4 H677.7 V500.3" fill="#fff" stroke="#3a3432" stroke-width="1"/>
<line x1="649.4" y1="496.4" x2="677.7" y2="496.4" stroke="#3a3432" stroke-width="1.6"/>
<path d="M650.8,495 Q651,489.5 656.5,489.5 Q662,489.5 662.3,495 Z" fill="#fff" stroke="#3a3432" stroke-width="1"/>
<path d="M654,491 L656.5,493.5 L659,491" fill="none" stroke="#3a3432" stroke-width="1" stroke-width="0.8"/>
<path d="M634.6,500.3 H640.7 Q642.3,502 642.3,505 V526 Q642.3,529.2 640.7,530.9 H634.6 Q633,529.2 633,526 V505 Q633,502 634.6,500.3 Z" fill="#fff" stroke="#3a3432" stroke-width="1"/>
<path d="M633.3,509.3 Q637.6,507.5 642,509.3 M633.3,521.8 Q637.6,523.6 642,521.8 M642.3,503 H643.5 M642.3,528 H643.5" fill="none" stroke="#3a3432" stroke-width="1" stroke-width="0.9"/>
<circle cx="641.3" cy="487.3" r="3.4" fill="#fff" stroke="#3a3432" stroke-width="1"/><circle cx="641.3" cy="487.3" r="1.7" fill="none" stroke="#3a3432" stroke-width="1" stroke-width="0.8"/>
<path d="M643.6,489.6 L650,495.2 M642.5,490.5 L648.5,495.6" fill="none" stroke="#3a3432" stroke-width="1" stroke-width="0.8"/>
<g transform="translate(675,472) rotate(33.9)">
<path d="M5,0 Q8,-8.5 15,-8.5 L89,-7.5 Q94,-6.5 95,0" fill="#fff" stroke="#3a3432" stroke-width="1"/>
<rect x="36" y="-12.5" width="12" height="5" fill="#fff" stroke="#3a3432" stroke-width="1"/>
<path d="M36.5,-12.5 Q37,-19.5 42,-19.5 Q47,-19.5 47.5,-12.5 Z" fill="#fff" stroke="#3a3432" stroke-width="1"/>
<path d="M39.5,-17 L42,-13.5 L44.5,-17" fill="none" stroke="#3a3432" stroke-width="1" stroke-width="0.8"/>
<rect x="56" y="-13" width="10.5" height="5.5" fill="#fff" stroke="#3a3432" stroke-width="1"/>
<rect x="0" y="0" width="102.4" height="12.3" fill="#fff" stroke="#3a3432" stroke-width="1" stroke-width="1.4"/>
<line x1="4" y1="2.3" x2="102.4" y2="2.3" fill="none" stroke="#3a3432" stroke-width="1" stroke-width="0.9"/>
<line x1="5" y1="2.3" x2="5" y2="12.3" fill="none" stroke="#3a3432" stroke-width="1" stroke-width="0.9"/>
<line x1="16" y1="2.3" x2="16" y2="12.3" fill="none" stroke="#3a3432" stroke-width="1" stroke-width="0.9"/>
<line x1="27" y1="2.3" x2="27" y2="12.3" fill="none" stroke="#3a3432" stroke-width="1" stroke-width="0.9"/>
<line x1="38" y1="2.3" x2="38" y2="12.3" fill="none" stroke="#3a3432" stroke-width="1" stroke-width="0.9"/>
<line x1="49" y1="2.3" x2="49" y2="12.3" fill="none" stroke="#3a3432" stroke-width="1" stroke-width="0.9"/>
<line x1="60" y1="2.3" x2="60" y2="12.3" fill="none" stroke="#3a3432" stroke-width="1" stroke-width="0.9"/>
<line x1="71" y1="2.3" x2="71" y2="12.3" fill="none" stroke="#3a3432" stroke-width="1" stroke-width="0.9"/>
<line x1="82" y1="2.3" x2="82" y2="12.3" fill="none" stroke="#3a3432" stroke-width="1" stroke-width="0.9"/>
<line x1="93" y1="2.3" x2="93" y2="12.3" fill="none" stroke="#3a3432" stroke-width="1" stroke-width="0.9"/>
<path d="M5,5.5 Q10.5,1 16,5.5" fill="none" stroke="#3a3432" stroke-width="1" stroke-width="0.9"/>
<path d="M27,5.5 Q32.5,1 38,5.5" fill="none" stroke="#3a3432" stroke-width="1" stroke-width="0.9"/>
<path d="M49,5.5 Q54.5,1 60,5.5" fill="none" stroke="#3a3432" stroke-width="1" stroke-width="0.9"/>
<path d="M71,5.5 Q76.5,1 82,5.5" fill="none" stroke="#3a3432" stroke-width="1" stroke-width="0.9"/>
<circle cx="22" cy="-18.5" r="3.3" fill="#fff" stroke="#3a3432" stroke-width="1"/><circle cx="22" cy="-18.5" r="1.6" fill="none" stroke="#3a3432" stroke-width="1" stroke-width="0.8"/>
<path d="M24.5,-16.5 L37,-12 M24,-15.2 L36.5,-10.8" fill="none" stroke="#3a3432" stroke-width="1" stroke-width="0.8"/>
</g>
<path d="M694,534 L702.9,541.5 V579.6 M706.7,534 L707.3,541.5 V579.6 M720,534 L713.7,541.5 V579.6" fill="none" stroke="#3a3432" stroke-width="1" stroke-width="1"/>
<path d="M626.3,510.8 L704.8,510.4 L720,534" fill="none" stroke="#27a6e5" stroke-width="1.2"/>
<path d="M626.3,515.9 L697.2,516.3 L706.7,534" fill="none" stroke="#27a6e5" stroke-width="1.2"/>
<path d="M626.6,520.6 L690.3,520.5 L694,534" fill="none" stroke="#e8389a" stroke-width="1.2"/>
<circle cx="694" cy="534" r="1.5" fill="#231f20"/>
<circle cx="706.7" cy="534" r="1.5" fill="#231f20"/>
<circle cx="720" cy="534" r="1.5" fill="#231f20"/>
</g>
<g transform="matrix(1.02,0,0,1.02,-7.664,819.0)">
<text x="637.2" y="454.5" font-size="17" fill="#231f20" stroke="#231f20" stroke-width="0.25" textLength="51.5" lengthAdjust="spacingAndGlyphs" >三线制</text>
<text x="699.4" y="453.2" font-size="15" fill="#231f20" textLength="43" lengthAdjust="spacingAndGlyphs" >PT100</text>
<path d="M636,487.3 L632,486.5 Q624,482 626,475 Q628,470 634,469.8 L700,469.8" fill="none" stroke="#3a3432" stroke-width="1.7" stroke-dasharray="0.01 3.6" stroke-linecap="round"/>
<path d="M677.7,486 V544.2 H743.4 V530 Z" fill="#fff" stroke="#3a3432" stroke-width="1"/>
<path d="M677.7,544.2 L690.9,559.4 H729.5 L743.4,544.2 M689,544.6 L694.7,559 M725.5,544.6 L718.7,559" fill="#fff" stroke="#3a3432" stroke-width="1"/>
<rect x="690.9" y="559.4" width="38.6" height="20.2" fill="#fff" stroke="#3a3432" stroke-width="1"/>
<path d="M694.7,559.4 V579.6 M718.7,559.4 V579.6" fill="none" stroke="#3a3432" stroke-width="1"/>
<rect x="721.3" y="562.5" width="7.6" height="14.5" fill="#fff" stroke="#3a3432" stroke-width="1"/>
<circle cx="723.9" cy="569.6" r="1.3" fill="#3a3432"/>
<path d="M698.4,579.6 V752 Q703,749 708,752.5 Q714,756 720.6,752 V579.6" fill="#fff" stroke="#3a3432" stroke-width="1"/>
<path d="M698.4,759.5 Q703,756 708,759 Q714,762 720.6,758 V828.6 A11.1,11.1 0 0 1 698.4,828.6 Z" fill="#fff" stroke="#3a3432" stroke-width="1"/>
<path d="M702.9,579.6 V752.5 M707.3,579.6 V753 M713.7,579.6 V754 M702.9,759.5 V810 M707.5,759.5 V830 M713.7,759.8 V830 H702.9 V827" fill="none" stroke="#3a3432" stroke-width="1" stroke-width="0.9"/>
<path d="M702.9,810 L705.3,812.5 L701,815.5 L705.3,818.5 L701,821.5 L705.3,824.5 L702.9,827" fill="none" stroke="#3a3432" stroke-width="0.9"/>
<path d="M643.5,500.3 H677.7 Q683,515.8 677.7,531.4 H643.5 Z" fill="#fff" stroke="#3a3432" stroke-width="1"/>
<path d="M649.4,500.3 V495.4 H677.7 V500.3" fill="#fff" stroke="#3a3432" stroke-width="1"/>
<line x1="649.4" y1="496.4" x2="677.7" y2="496.4" stroke="#3a3432" stroke-width="1.6"/>
<path d="M650.8,495 Q651,489.5 656.5,489.5 Q662,489.5 662.3,495 Z" fill="#fff" stroke="#3a3432" stroke-width="1"/>
<path d="M654,491 L656.5,493.5 L659,491" fill="none" stroke="#3a3432" stroke-width="1" stroke-width="0.8"/>
<path d="M634.6,500.3 H640.7 Q642.3,502 642.3,505 V526 Q642.3,529.2 640.7,530.9 H634.6 Q633,529.2 633,526 V505 Q633,502 634.6,500.3 Z" fill="#fff" stroke="#3a3432" stroke-width="1"/>
<path d="M633.3,509.3 Q637.6,507.5 642,509.3 M633.3,521.8 Q637.6,523.6 642,521.8 M642.3,503 H643.5 M642.3,528 H643.5" fill="none" stroke="#3a3432" stroke-width="1" stroke-width="0.9"/>
<circle cx="641.3" cy="487.3" r="3.4" fill="#fff" stroke="#3a3432" stroke-width="1"/><circle cx="641.3" cy="487.3" r="1.7" fill="none" stroke="#3a3432" stroke-width="1" stroke-width="0.8"/>
<path d="M643.6,489.6 L650,495.2 M642.5,490.5 L648.5,495.6" fill="none" stroke="#3a3432" stroke-width="1" stroke-width="0.8"/>
<g transform="translate(675,472) rotate(33.9)">
<path d="M5,0 Q8,-8.5 15,-8.5 L89,-7.5 Q94,-6.5 95,0" fill="#fff" stroke="#3a3432" stroke-width="1"/>
<rect x="36" y="-12.5" width="12" height="5" fill="#fff" stroke="#3a3432" stroke-width="1"/>
<path d="M36.5,-12.5 Q37,-19.5 42,-19.5 Q47,-19.5 47.5,-12.5 Z" fill="#fff" stroke="#3a3432" stroke-width="1"/>
<path d="M39.5,-17 L42,-13.5 L44.5,-17" fill="none" stroke="#3a3432" stroke-width="1" stroke-width="0.8"/>
<rect x="56" y="-13" width="10.5" height="5.5" fill="#fff" stroke="#3a3432" stroke-width="1"/>
<rect x="0" y="0" width="102.4" height="12.3" fill="#fff" stroke="#3a3432" stroke-width="1" stroke-width="1.4"/>
<line x1="4" y1="2.3" x2="102.4" y2="2.3" fill="none" stroke="#3a3432" stroke-width="1" stroke-width="0.9"/>
<line x1="5" y1="2.3" x2="5" y2="12.3" fill="none" stroke="#3a3432" stroke-width="1" stroke-width="0.9"/>
<line x1="16" y1="2.3" x2="16" y2="12.3" fill="none" stroke="#3a3432" stroke-width="1" stroke-width="0.9"/>
<line x1="27" y1="2.3" x2="27" y2="12.3" fill="none" stroke="#3a3432" stroke-width="1" stroke-width="0.9"/>
<line x1="38" y1="2.3" x2="38" y2="12.3" fill="none" stroke="#3a3432" stroke-width="1" stroke-width="0.9"/>
<line x1="49" y1="2.3" x2="49" y2="12.3" fill="none" stroke="#3a3432" stroke-width="1" stroke-width="0.9"/>
<line x1="60" y1="2.3" x2="60" y2="12.3" fill="none" stroke="#3a3432" stroke-width="1" stroke-width="0.9"/>
<line x1="71" y1="2.3" x2="71" y2="12.3" fill="none" stroke="#3a3432" stroke-width="1" stroke-width="0.9"/>
<line x1="82" y1="2.3" x2="82" y2="12.3" fill="none" stroke="#3a3432" stroke-width="1" stroke-width="0.9"/>
<line x1="93" y1="2.3" x2="93" y2="12.3" fill="none" stroke="#3a3432" stroke-width="1" stroke-width="0.9"/>
<path d="M5,5.5 Q10.5,1 16,5.5" fill="none" stroke="#3a3432" stroke-width="1" stroke-width="0.9"/>
<path d="M27,5.5 Q32.5,1 38,5.5" fill="none" stroke="#3a3432" stroke-width="1" stroke-width="0.9"/>
<path d="M49,5.5 Q54.5,1 60,5.5" fill="none" stroke="#3a3432" stroke-width="1" stroke-width="0.9"/>
<path d="M71,5.5 Q76.5,1 82,5.5" fill="none" stroke="#3a3432" stroke-width="1" stroke-width="0.9"/>
<circle cx="22" cy="-18.5" r="3.3" fill="#fff" stroke="#3a3432" stroke-width="1"/><circle cx="22" cy="-18.5" r="1.6" fill="none" stroke="#3a3432" stroke-width="1" stroke-width="0.8"/>
<path d="M24.5,-16.5 L37,-12 M24,-15.2 L36.5,-10.8" fill="none" stroke="#3a3432" stroke-width="1" stroke-width="0.8"/>
</g>
<path d="M694,534 L702.9,541.5 V579.6 M706.7,534 L707.3,541.5 V579.6 M720,534 L713.7,541.5 V579.6" fill="none" stroke="#3a3432" stroke-width="1" stroke-width="1"/>
<path d="M626.3,510.8 L704.8,510.4 L720,534" fill="none" stroke="#27a6e5" stroke-width="1.2"/>
<path d="M626.3,515.9 L697.2,516.3 L706.7,534" fill="none" stroke="#27a6e5" stroke-width="1.2"/>
<path d="M626.6,520.6 L690.3,520.5 L694,534" fill="none" stroke="#e8389a" stroke-width="1.2"/>
<circle cx="694" cy="534" r="1.5" fill="#231f20"/>
<circle cx="706.7" cy="534" r="1.5" fill="#231f20"/>
<circle cx="720" cy="534" r="1.5" fill="#231f20"/>
</g>
<path d="M142,328.2 L93.9,328.2 L93.9,407 L220.7,407 L220.7,582.5" fill="none" stroke="#3a3432" stroke-width="1.1" stroke-linejoin="miter"/>
<path d="M220.9,612.5 L220.9,687.8 L129.7,687.8 L129.7,653" fill="none" stroke="#3a3432" stroke-width="1.1" stroke-linejoin="miter"/>
<path d="M142,330.4 L103.5,330.4 L103.5,397.5 L264.9,397.5 L264.9,541.3 L355.5,541.3" fill="none" stroke="#e8475a" stroke-width="1.2" stroke-linejoin="miter"/>
<path d="M160.6,655 L160.6,704.3 L261.1,704.3 L386.5,591" fill="none" stroke="#e8389a" stroke-width="1.1" stroke-linejoin="miter"/>
<path d="M48.6,655 L48.6,716.2" fill="none" stroke="#e8475a" stroke-width="1.2" stroke-linejoin="miter"/>
<path d="M78.6,654 L78.6,716" fill="none" stroke="#3a3432" stroke-width="1.1" stroke-linejoin="miter"/>
<path d="M492.2,493.2 L626.3,510.8" fill="none" stroke="#27a6e5" stroke-width="1.2" stroke-linejoin="miter"/>
<path d="M509,534.7 L626.3,515.9" fill="none" stroke="#27a6e5" stroke-width="1.2" stroke-linejoin="miter"/>
<path d="M504.9,572.6 L626.6,520.6" fill="none" stroke="#e8389a" stroke-width="1.1" stroke-linejoin="miter"/>
<text x="549.4" y="497.8" font-size="14.2" fill="#231f20" stroke="#231f20" stroke-width="0.25" textLength="6.9" lengthAdjust="spacingAndGlyphs" >B</text>
<text x="549.4" y="521.8" font-size="14.2" fill="#231f20" stroke="#231f20" stroke-width="0.25" textLength="6.9" lengthAdjust="spacingAndGlyphs" >B</text>
<text x="549.2" y="545.5" font-size="14.2" fill="#231f20" stroke="#231f20" stroke-width="0.25" textLength="7.3" lengthAdjust="spacingAndGlyphs" >A</text>
<path d="M642.5,1081 L642.5,1046.4 L218.2,1046.4 L218.2,1412.7" fill="none" stroke="#3a3432" stroke-width="1.1" stroke-linejoin="miter"/>
<path d="M217.7,1443.3 L217.7,1520.5 L124.6,1520.5 L124.6,1485" fill="none" stroke="#3a3432" stroke-width="1.1" stroke-linejoin="miter"/>
<path d="M623.4,1081 L623.4,1067.3 L262.4,1067.3 L262.4,1371 L356,1371" fill="none" stroke="#e8475a" stroke-width="1.2" stroke-linejoin="miter"/>
<path d="M156.4,1485 L156.4,1537.2 L258.6,1537.2 L387,1420.5" fill="none" stroke="#e8389a" stroke-width="1.1" stroke-linejoin="miter"/>
<path d="M41.8,1486.3 L41.8,1547.5" fill="none" stroke="#e8475a" stroke-width="1.2" stroke-linejoin="miter"/>
<path d="M72.4,1485.4 L72.4,1547" fill="none" stroke="#3a3432" stroke-width="1.1" stroke-linejoin="miter"/>
<path d="M492.7,1322.7 L631.2,1340" fill="none" stroke="#27a6e5" stroke-width="1.2" stroke-linejoin="miter"/>
<path d="M509.5,1364.2 L631.2,1345.2" fill="none" stroke="#27a6e5" stroke-width="1.2" stroke-linejoin="miter"/>
<path d="M505.4,1402.1 L631.5,1350" fill="none" stroke="#e8389a" stroke-width="1.1" stroke-linejoin="miter"/>
<text x="552.9" y="1326.7" font-size="14.2" fill="#231f20" stroke="#231f20" stroke-width="0.25" textLength="6.9" lengthAdjust="spacingAndGlyphs" >B</text>
<text x="552.9" y="1350.6" font-size="14.2" fill="#231f20" stroke="#231f20" stroke-width="0.25" textLength="6.9" lengthAdjust="spacingAndGlyphs" >B</text>
<text x="552.7" y="1375.6" font-size="14.2" fill="#231f20" stroke="#231f20" stroke-width="0.25" textLength="7.3" lengthAdjust="spacingAndGlyphs" >A</text>
<rect x="339" y="1162.5" width="1" height="1" fill="#555"/>
<path d="M344,328.2 L406.8,331 L503.4,342.8 L518,341.5" fill="none" stroke="#3a3432" stroke-width="1.1"/>
<path d="M344,335.6 L406.8,338.7 L503.4,347.8 L516,348.8" fill="none" stroke="#3a3432" stroke-width="1.1"/>
<path d="M406.8,331 V338.7 M503.4,342.8 V347.8" fill="none" stroke="#3a3432" stroke-width="1.1" stroke-width="0.8"/>
<path d="M521.8,338.7 L543.3,340 L535.7,354.2 V357.3 L514.5,356.2 Q512.5,355 513.5,353.2 Z" fill="#fff" stroke="#3a3432" stroke-width="1.1"/>
<path d="M513.5,353.2 L535.7,354.2" fill="none" stroke="#3a3432" stroke-width="1.1" stroke-width="1"/>
<path d="M177.6,303.4 H305.4 V370.5 H175.6 Q173.2,360 173.3,347.4 Q174.5,337.5 176.4,322.3 Q176.8,306 177.6,303.4 Z" fill="#fff" stroke="#3a3432" stroke-width="1.1"/>
<line x1="177" y1="307.6" x2="305.4" y2="307.6" stroke="#6e6866" stroke-width="1.6"/>
<line x1="173.3" y1="347" x2="305.4" y2="347" stroke="#6e6866" stroke-width="1.4"/>
<line x1="174" y1="358.4" x2="305.4" y2="358.4" stroke="#6e6866" stroke-width="1.2"/>
<path d="M176.4,322 H173 V325.4 H145 Q142.2,326.5 142.2,330 Q142.2,333.4 145,334.5 H173 V337.8 H175.4" fill="#fff" stroke="#3a3432" stroke-width="1.1"/>
<path d="M151.60000000000002,325.4 L152.8,326.5 L154.0,325.4 M151.60000000000002,334.5 L152.8,333.4 L154.0,334.5" fill="none" stroke="#3a3432" stroke-width="1.1" stroke-width="0.8"/>
<path d="M158.5,325.4 L159.7,326.5 L160.89999999999998,325.4 M158.5,334.5 L159.7,333.4 L160.89999999999998,334.5" fill="none" stroke="#3a3432" stroke-width="1.1" stroke-width="0.8"/>
<path d="M165.70000000000002,325.4 L166.9,326.5 L168.1,325.4 M165.70000000000002,334.5 L166.9,333.4 L168.1,334.5" fill="none" stroke="#3a3432" stroke-width="1.1" stroke-width="0.8"/>
<rect x="305.4" y="324.2" width="3.3" height="15.2" fill="#fff" stroke="#3a3432" stroke-width="1.1"/>
<path d="M308.7,321.8 H333 Q341,323 344.7,328 V335.8 Q341,341 333,342 H308.7 Z" fill="#fff" stroke="#3a3432" stroke-width="1.1"/>
<text x="194.5" y="335.8" font-size="18" fill="#231f20" stroke="#231f20" stroke-width="0.3" textLength="35" lengthAdjust="spacingAndGlyphs" >HART</text>
<text x="229.7" y="336.3" font-size="17.5" fill="#231f20" stroke="#231f20" stroke-width="0.35" textLength="52" lengthAdjust="spacingAndGlyphs" >调制器</text>
<text x="471.8" y="321.8" font-size="17" fill="#231f20" stroke="#231f20" stroke-width="0.3" textLength="24.4" lengthAdjust="spacingAndGlyphs" >USB</text>
<text x="497.8" y="322.2" font-size="17" fill="#231f20" stroke="#231f20" stroke-width="0.35" textLength="34" lengthAdjust="spacingAndGlyphs" >接口</text>
<path d="M564.5,304 H743.8 L768.8,358.4 V366 Q768,368.2 765,368.2 H540 Q537,366 536.3,358.4 Z" fill="#fff" stroke="#3a3432" stroke-width="1.1"/>
<path d="M536.3,358.4 H768.8" fill="none" stroke="#3a3432" stroke-width="1.1"/>
<path d="M567.4,304.6 L539.6,357.6 M741,304.6 L765.5,356" fill="none" stroke="#3a3432" stroke-width="1.1" stroke-width="0.8"/>
<path d="M566.8,311.8 H741.2 L752.4,339.8 H552.8 Z" fill="none" stroke="#3a3432" stroke-width="1.1" stroke-width="0.9"/>
<rect x="565.3" y="313.2" width="172.2" height="4.3" rx="0.8" fill="#2e2927"/>
<rect x="566.7" y="314.4" width="2.9" height="1.9" rx="0.6" fill="#fff"/>
<rect x="572.55" y="314.4" width="2.9" height="1.9" rx="0.6" fill="#fff"/>
<rect x="578.4" y="314.4" width="2.9" height="1.9" rx="0.6" fill="#fff"/>
<rect x="584.25" y="314.4" width="2.9" height="1.9" rx="0.6" fill="#fff"/>
<rect x="590.1" y="314.4" width="2.9" height="1.9" rx="0.6" fill="#fff"/>
<rect x="595.95" y="314.4" width="2.9" height="1.9" rx="0.6" fill="#fff"/>
<rect x="601.8" y="314.4" width="2.9" height="1.9" rx="0.6" fill="#fff"/>
<rect x="607.65" y="314.4" width="2.9" height="1.9" rx="0.6" fill="#fff"/>
<rect x="613.5" y="314.4" width="2.9" height="1.9" rx="0.6" fill="#fff"/>
<rect x="619.35" y="314.4" width="2.9" height="1.9" rx="0.6" fill="#fff"/>
<rect x="625.2" y="314.4" width="2.9" height="1.9" rx="0.6" fill="#fff"/>
<rect x="631.05" y="314.4" width="2.9" height="1.9" rx="0.6" fill="#fff"/>
<rect x="636.9" y="314.4" width="2.9" height="1.9" rx="0.6" fill="#fff"/>
<rect x="642.75" y="314.4" width="2.9" height="1.9" rx="0.6" fill="#fff"/>
<rect x="648.6" y="314.4" width="2.9" height="1.9" rx="0.6" fill="#fff"/>
<rect x="654.45" y="314.4" width="2.9" height="1.9" rx="0.6" fill="#fff"/>
<rect x="660.3" y="314.4" width="2.9" height="1.9" rx="0.6" fill="#fff"/>
<rect x="666.15" y="314.4" width="2.9" height="1.9" rx="0.6" fill="#fff"/>
<rect x="672" y="314.4" width="2.9" height="1.9" rx="0.6" fill="#fff"/>
<rect x="677.85" y="314.4" width="2.9" height="1.9" rx="0.6" fill="#fff"/>
<rect x="683.7" y="314.4" width="2.9" height="1.9" rx="0.6" fill="#fff"/>
<rect x="689.55" y="314.4" width="2.9" height="1.9" rx="0.6" fill="#fff"/>
<rect x="695.4" y="314.4" width="2.9" height="1.9" rx="0.6" fill="#fff"/>
<rect x="701.25" y="314.4" width="2.9" height="1.9" rx="0.6" fill="#fff"/>
<rect x="707.1" y="314.4" width="2.9" height="1.9" rx="0.6" fill="#fff"/>
<rect x="712.95" y="314.4" width="2.9" height="1.9" rx="0.6" fill="#fff"/>
<rect x="718.8" y="314.4" width="2.9" height="1.9" rx="0.6" fill="#fff"/>
<rect x="724.65" y="314.4" width="2.9" height="1.9" rx="0.6" fill="#fff"/>
<rect x="730.5" y="314.4" width="2.9" height="1.9" rx="0.6" fill="#fff"/>
<rect x="563.9" y="319.5" width="175.6" height="4.3" rx="0.8" fill="#2e2927"/>
<rect x="565.3" y="320.7" width="2.9" height="1.9" rx="0.6" fill="#fff"/>
<rect x="571.15" y="320.7" width="2.9" height="1.9" rx="0.6" fill="#fff"/>
<rect x="577" y="320.7" width="2.9" height="1.9" rx="0.6" fill="#fff"/>
<rect x="582.85" y="320.7" width="2.9" height="1.9" rx="0.6" fill="#fff"/>
<rect x="588.7" y="320.7" width="2.9" height="1.9" rx="0.6" fill="#fff"/>
<rect x="594.55" y="320.7" width="2.9" height="1.9" rx="0.6" fill="#fff"/>
<rect x="600.4" y="320.7" width="2.9" height="1.9" rx="0.6" fill="#fff"/>
<rect x="606.25" y="320.7" width="2.9" height="1.9" rx="0.6" fill="#fff"/>
<rect x="612.1" y="320.7" width="2.9" height="1.9" rx="0.6" fill="#fff"/>
<rect x="617.95" y="320.7" width="2.9" height="1.9" rx="0.6" fill="#fff"/>
<rect x="623.8" y="320.7" width="2.9" height="1.9" rx="0.6" fill="#fff"/>
<rect x="629.65" y="320.7" width="2.9" height="1.9" rx="0.6" fill="#fff"/>
<rect x="635.5" y="320.7" width="2.9" height="1.9" rx="0.6" fill="#fff"/>
<rect x="641.35" y="320.7" width="2.9" height="1.9" rx="0.6" fill="#fff"/>
<rect x="647.2" y="320.7" width="2.9" height="1.9" rx="0.6" fill="#fff"/>
<rect x="653.05" y="320.7" width="2.9" height="1.9" rx="0.6" fill="#fff"/>
<rect x="658.9" y="320.7" width="2.9" height="1.9" rx="0.6" fill="#fff"/>
<rect x="664.75" y="320.7" width="2.9" height="1.9" rx="0.6" fill="#fff"/>
<rect x="670.6" y="320.7" width="2.9" height="1.9" rx="0.6" fill="#fff"/>
<rect x="676.45" y="320.7" width="2.9" height="1.9" rx="0.6" fill="#fff"/>
<rect x="682.3" y="320.7" width="2.9" height="1.9" rx="0.6" fill="#fff"/>
<rect x="688.15" y="320.7" width="2.9" height="1.9" rx="0.6" fill="#fff"/>
<rect x="694" y="320.7" width="2.9" height="1.9" rx="0.6" fill="#fff"/>
<rect x="699.85" y="320.7" width="2.9" height="1.9" rx="0.6" fill="#fff"/>
<rect x="705.7" y="320.7" width="2.9" height="1.9" rx="0.6" fill="#fff"/>
<rect x="711.55" y="320.7" width="2.9" height="1.9" rx="0.6" fill="#fff"/>
<rect x="717.4" y="320.7" width="2.9" height="1.9" rx="0.6" fill="#fff"/>
<rect x="723.25" y="320.7" width="2.9" height="1.9" rx="0.6" fill="#fff"/>
<rect x="729.1" y="320.7" width="2.9" height="1.9" rx="0.6" fill="#fff"/>
<rect x="734.95" y="320.7" width="2.9" height="1.9" rx="0.6" fill="#fff"/>
<rect x="561.8" y="325.2" width="182.7" height="4.3" rx="0.8" fill="#2e2927"/>
<rect x="563.2" y="326.4" width="2.9" height="1.9" rx="0.6" fill="#fff"/>
<rect x="569.05" y="326.4" width="2.9" height="1.9" rx="0.6" fill="#fff"/>
<rect x="574.9" y="326.4" width="2.9" height="1.9" rx="0.6" fill="#fff"/>
<rect x="580.75" y="326.4" width="2.9" height="1.9" rx="0.6" fill="#fff"/>
<rect x="586.6" y="326.4" width="2.9" height="1.9" rx="0.6" fill="#fff"/>
<rect x="592.45" y="326.4" width="2.9" height="1.9" rx="0.6" fill="#fff"/>
<rect x="598.3" y="326.4" width="2.9" height="1.9" rx="0.6" fill="#fff"/>
<rect x="604.15" y="326.4" width="2.9" height="1.9" rx="0.6" fill="#fff"/>
<rect x="610" y="326.4" width="2.9" height="1.9" rx="0.6" fill="#fff"/>
<rect x="615.85" y="326.4" width="2.9" height="1.9" rx="0.6" fill="#fff"/>
<rect x="621.7" y="326.4" width="2.9" height="1.9" rx="0.6" fill="#fff"/>
<rect x="627.55" y="326.4" width="2.9" height="1.9" rx="0.6" fill="#fff"/>
<rect x="633.4" y="326.4" width="2.9" height="1.9" rx="0.6" fill="#fff"/>
<rect x="639.25" y="326.4" width="2.9" height="1.9" rx="0.6" fill="#fff"/>
<rect x="645.1" y="326.4" width="2.9" height="1.9" rx="0.6" fill="#fff"/>
<rect x="650.95" y="326.4" width="2.9" height="1.9" rx="0.6" fill="#fff"/>
<rect x="656.8" y="326.4" width="2.9" height="1.9" rx="0.6" fill="#fff"/>
<rect x="662.65" y="326.4" width="2.9" height="1.9" rx="0.6" fill="#fff"/>
<rect x="668.5" y="326.4" width="2.9" height="1.9" rx="0.6" fill="#fff"/>
<rect x="674.35" y="326.4" width="2.9" height="1.9" rx="0.6" fill="#fff"/>
<rect x="680.2" y="326.4" width="2.9" height="1.9" rx="0.6" fill="#fff"/>
<rect x="686.05" y="326.4" width="2.9" height="1.9" rx="0.6" fill="#fff"/>
<rect x="691.9" y="326.4" width="2.9" height="1.9" rx="0.6" fill="#fff"/>
<rect x="697.75" y="326.4" width="2.9" height="1.9" rx="0.6" fill="#fff"/>
<rect x="703.6" y="326.4" width="2.9" height="1.9" rx="0.6" fill="#fff"/>
<rect x="709.45" y="326.4" width="2.9" height="1.9" rx="0.6" fill="#fff"/>
<rect x="715.3" y="326.4" width="2.9" height="1.9" rx="0.6" fill="#fff"/>
<rect x="721.15" y="326.4" width="2.9" height="1.9" rx="0.6" fill="#fff"/>
<rect x="727" y="326.4" width="2.9" height="1.9" rx="0.6" fill="#fff"/>
<rect x="732.85" y="326.4" width="2.9" height="1.9" rx="0.6" fill="#fff"/>
<rect x="738.7" y="326.4" width="2.9" height="1.9" rx="0.6" fill="#fff"/>
<rect x="559.7" y="331.4" width="187.3" height="4.3" rx="0.8" fill="#2e2927"/>
<rect x="561.1" y="332.6" width="2.9" height="1.9" rx="0.6" fill="#fff"/>
<rect x="566.95" y="332.6" width="2.9" height="1.9" rx="0.6" fill="#fff"/>
<rect x="572.8" y="332.6" width="2.9" height="1.9" rx="0.6" fill="#fff"/>
<rect x="578.65" y="332.6" width="2.9" height="1.9" rx="0.6" fill="#fff"/>
<rect x="584.5" y="332.6" width="2.9" height="1.9" rx="0.6" fill="#fff"/>
<rect x="590.35" y="332.6" width="2.9" height="1.9" rx="0.6" fill="#fff"/>
<rect x="596.2" y="332.6" width="2.9" height="1.9" rx="0.6" fill="#fff"/>
<rect x="602.05" y="332.6" width="2.9" height="1.9" rx="0.6" fill="#fff"/>
<rect x="607.9" y="332.6" width="2.9" height="1.9" rx="0.6" fill="#fff"/>
<rect x="613.75" y="332.6" width="2.9" height="1.9" rx="0.6" fill="#fff"/>
<rect x="619.6" y="332.6" width="2.9" height="1.9" rx="0.6" fill="#fff"/>
<rect x="625.45" y="332.6" width="2.9" height="1.9" rx="0.6" fill="#fff"/>
<rect x="631.3" y="332.6" width="2.9" height="1.9" rx="0.6" fill="#fff"/>
<rect x="637.15" y="332.6" width="2.9" height="1.9" rx="0.6" fill="#fff"/>
<rect x="643" y="332.6" width="2.9" height="1.9" rx="0.6" fill="#fff"/>
<rect x="648.85" y="332.6" width="2.9" height="1.9" rx="0.6" fill="#fff"/>
<rect x="654.7" y="332.6" width="2.9" height="1.9" rx="0.6" fill="#fff"/>
<rect x="660.55" y="332.6" width="2.9" height="1.9" rx="0.6" fill="#fff"/>
<rect x="666.4" y="332.6" width="2.9" height="1.9" rx="0.6" fill="#fff"/>
<rect x="672.25" y="332.6" width="2.9" height="1.9" rx="0.6" fill="#fff"/>
<rect x="678.1" y="332.6" width="2.9" height="1.9" rx="0.6" fill="#fff"/>
<rect x="683.95" y="332.6" width="2.9" height="1.9" rx="0.6" fill="#fff"/>
<rect x="689.8" y="332.6" width="2.9" height="1.9" rx="0.6" fill="#fff"/>
<rect x="695.65" y="332.6" width="2.9" height="1.9" rx="0.6" fill="#fff"/>
<rect x="701.5" y="332.6" width="2.9" height="1.9" rx="0.6" fill="#fff"/>
<rect x="707.35" y="332.6" width="2.9" height="1.9" rx="0.6" fill="#fff"/>
<rect x="713.2" y="332.6" width="2.9" height="1.9" rx="0.6" fill="#fff"/>
<rect x="719.05" y="332.6" width="2.9" height="1.9" rx="0.6" fill="#fff"/>
<rect x="724.9" y="332.6" width="2.9" height="1.9" rx="0.6" fill="#fff"/>
<rect x="730.75" y="332.6" width="2.9" height="1.9" rx="0.6" fill="#fff"/>
<rect x="736.6" y="332.6" width="2.9" height="1.9" rx="0.6" fill="#fff"/>
<rect x="742.45" y="332.6" width="2.9" height="1.9" rx="0.6" fill="#fff"/>
<rect x="717" y="337" width="30" height="3.8" rx="0.8" fill="#2e2927"/>
<rect x="718.4" y="338" width="2.9" height="1.9" rx="0.6" fill="#fff"/>
<rect x="724.25" y="338" width="2.9" height="1.9" rx="0.6" fill="#fff"/>
<rect x="730.1" y="338" width="2.9" height="1.9" rx="0.6" fill="#fff"/>
<rect x="735.95" y="338" width="2.9" height="1.9" rx="0.6" fill="#fff"/>
<rect x="741.8" y="338" width="2.9" height="1.9" rx="0.6" fill="#fff"/>
<path d="M621,340.8 H666.5 L668.5,350.8 H619.5 Z" fill="#fff" stroke="#3a3432" stroke-width="1.1" stroke-width="0.9"/>
<rect x="614.8" y="350.8" width="54.8" height="5.6" fill="#fff" stroke="#3a3432" stroke-width="1.1" stroke-width="0.9"/>
<line x1="642.4" y1="350.8" x2="642.4" y2="356.4" stroke="#3a3432" stroke-width="1.2"/>
<rect x="561.1" y="355.4" width="26.5" height="2.8" fill="#fff" stroke="#3a3432" stroke-width="1.1" stroke-width="0.8"/>
<rect x="561.5" y="170.2" width="182.5" height="132.8" rx="3.5" fill="#fff" stroke="#3a3432" stroke-width="1.1"/>
<rect x="564.2" y="175.6" width="176.5" height="125" rx="1.5" fill="none" stroke="#3a3432" stroke-width="1.1" stroke-width="0.9"/>
<path d="M642,175.6 L644.8,181.4 H661 L663.5,175.6" fill="none" stroke="#3a3432" stroke-width="1.1" stroke-width="0.9"/>
<rect x="572" y="298.8" width="8.8" height="5.8" fill="#b5b1b0" stroke="#3a3432" stroke-width="0.7"/>
<rect x="725" y="298.8" width="8.6" height="5.8" fill="#b5b1b0" stroke="#3a3432" stroke-width="0.7"/>
<rect x="571.2" y="183.9" width="163.3" height="107.1" fill="#efefef" stroke="#4a4a4a" stroke-width="1.3"/>
<rect x="572" y="184.6" width="161.7" height="5.2" fill="#dbe3ee"/>
<rect x="574.05" y="185.91" width="51.52" height="1.5" fill="#6a6a6a"/>
<rect x="723.5" y="184.9" width="9.4" height="3.4" fill="#d9534f"/><rect x="713" y="185" width="10" height="3.2" fill="#c9ced6"/>
<rect x="572" y="189.8" width="161.7" height="4.4" fill="#e6ecf4"/>
<rect x="575.22" y="191.06" width="8.2" height="1.5" fill="#6a6a6a"/>
<rect x="586.93" y="191.06" width="5.85" height="1.5" fill="#6a6a6a"/>
<rect x="595.13" y="191.06" width="9.37" height="1.5" fill="#6a6a6a"/>
<rect x="577.56" y="195.61" width="3.3" height="3.5" fill="#f0a030"/>
<rect x="581.78" y="196.68" width="8.67" height="1.5" fill="#6a6a6a"/>
<rect x="595.13" y="195.61" width="3.3" height="3.5" fill="#4a8fd8"/>
<rect x="599.34" y="196.68" width="9.84" height="1.5" fill="#6a6a6a"/>
<rect x="612.69" y="195.61" width="3.3" height="3.5" fill="#3060c0"/>
<rect x="616.91" y="196.68" width="9.84" height="1.5" fill="#6a6a6a"/>
<rect x="632.6" y="195.61" width="3.3" height="3.5" fill="#3a80d8"/>
<rect x="636.81" y="196.68" width="8.67" height="1.5" fill="#6a6a6a"/>
<rect x="650.16" y="195.61" width="3.3" height="3.5" fill="#d85a4a"/>
<rect x="654.38" y="196.68" width="9.84" height="1.5" fill="#6a6a6a"/>
<line x1="572" y1="200.5" x2="733.7" y2="200.5" stroke="#d0d0d0" stroke-width="0.6"/>
<rect x="577.56" y="202.3" width="9.37" height="1.5" fill="#6a6a6a"/>
<rect x="579.91" y="207.69" width="3.51" height="1.5" fill="#6a6a6a"/>
<rect x="586.23" y="206.62" width="11.24" height="3.51" fill="#fff" stroke="#b0b0b0" stroke-width="0.4"/>
<rect x="598.64" y="206.62" width="12.88" height="3.98" fill="#e2e2e2" stroke="#8c8c8c" stroke-width="0.45"/>
<rect x="602.51" y="208.01" width="5.15" height="1.2" fill="#555"/>
<rect x="613.4" y="206.62" width="13.35" height="3.98" fill="#e2e2e2" stroke="#8c8c8c" stroke-width="0.45"/>
<rect x="617.4" y="208.01" width="5.34" height="1.2" fill="#555"/>
<rect x="577.56" y="212.84" width="5.85" height="1.5" fill="#6a6a6a"/>
<rect x="586.23" y="212" width="11.24" height="3.51" fill="#fff" stroke="#b0b0b0" stroke-width="0.4"/>
<rect x="598.64" y="212" width="12.88" height="3.98" fill="#e2e2e2" stroke="#8c8c8c" stroke-width="0.45"/>
<rect x="602.51" y="213.39" width="5.15" height="1.2" fill="#555"/>
<rect x="613.4" y="212" width="13.35" height="3.98" fill="#e2e2e2" stroke="#8c8c8c" stroke-width="0.45"/>
<rect x="617.4" y="213.39" width="5.34" height="1.2" fill="#555"/>
<rect x="598.64" y="217.15" width="12.88" height="4.22" fill="#e2e2e2" stroke="#8c8c8c" stroke-width="0.45"/>
<rect x="602.51" y="218.66" width="5.15" height="1.2" fill="#555"/>
<rect x="613.4" y="217.15" width="13.35" height="4.22" fill="#e2e2e2" stroke="#8c8c8c" stroke-width="0.45"/>
<rect x="617.4" y="218.66" width="5.34" height="1.2" fill="#555"/>
<rect x="577.56" y="228.77" width="10.54" height="1.5" fill="#6a6a6a"/>
<rect x="590.44" y="227.69" width="11.24" height="3.98" fill="#fff" stroke="#b0b0b0" stroke-width="0.4"/>
<rect x="599.89" y="229.18" width="1" height="1" fill="#333"/>
<rect x="602.86" y="227.69" width="11.01" height="3.98" fill="#e2e2e2" stroke="#8c8c8c" stroke-width="0.45"/>
<rect x="606.16" y="229.08" width="4.4" height="1.2" fill="#555"/>
<rect x="615.04" y="227.69" width="11.71" height="3.98" fill="#e2e2e2" stroke="#8c8c8c" stroke-width="0.45"/>
<rect x="618.55" y="229.08" width="4.68" height="1.2" fill="#555"/>
<rect x="577.56" y="235.56" width="14.05" height="1.5" fill="#6a6a6a"/>
<rect x="578.74" y="240.48" width="4.68" height="1.5" fill="#6a6a6a"/>
<rect x="592.79" y="240.48" width="9.37" height="1.5" fill="#6a6a6a"/>
<rect x="578.74" y="244.46" width="4.68" height="1.5" fill="#6a6a6a"/>
<rect x="592.79" y="244.46" width="9.37" height="1.5" fill="#6a6a6a"/>
<rect x="578.74" y="248.67" width="4.68" height="1.5" fill="#6a6a6a"/>
<rect x="592.79" y="248.67" width="9.37" height="1.5" fill="#6a6a6a"/>
<rect x="578.74" y="252.65" width="4.68" height="1.5" fill="#6a6a6a"/>
<rect x="592.79" y="252.65" width="9.37" height="1.5" fill="#6a6a6a"/>
<rect x="578.27" y="256.64" width="12.18" height="1.5" fill="#6a6a6a"/>
<rect x="592.79" y="255.8" width="33.96" height="3.51" fill="#fff" stroke="#b0b0b0" stroke-width="0.4"/>
<rect x="624.94" y="257.05" width="1" height="1" fill="#333"/>
<rect x="598.64" y="263.99" width="12.88" height="4.22" fill="#e2e2e2" stroke="#8c8c8c" stroke-width="0.45"/>
<rect x="602.51" y="265.5" width="5.15" height="1.2" fill="#555"/>
<rect x="613.4" y="263.99" width="13.35" height="4.22" fill="#e2e2e2" stroke="#8c8c8c" stroke-width="0.45"/>
<rect x="617.4" y="265.5" width="5.34" height="1.2" fill="#555"/>
<rect x="577.56" y="274.53" width="87.82" height="4.68" fill="#fff" stroke="#b0b0b0" stroke-width="0.4"/>
<rect x="663.59" y="276.37" width="1" height="1" fill="#333"/>
<rect x="667.73" y="273.36" width="13.58" height="5.85" fill="#e2e2e2" stroke="#8c8c8c" stroke-width="0.45"/>
<rect x="671.8" y="275.69" width="5.43" height="1.2" fill="#555"/>
<rect x="577.56" y="283.8" width="10.54" height="1.5" fill="#6a6a6a"/>
<rect x="632.6" y="202.3" width="14.05" height="1.5" fill="#6a6a6a"/>
<rect x="632.6" y="207.69" width="9.37" height="1.5" fill="#6a6a6a"/>
<rect x="644.31" y="206.62" width="37" height="3.98" fill="#fff" stroke="#b0b0b0" stroke-width="0.4"/>
<rect x="679.51" y="208.11" width="1" height="1" fill="#333"/>
<rect x="636.11" y="212.37" width="5.85" height="1.5" fill="#6a6a6a"/>
<rect x="644.31" y="211.3" width="11.71" height="3.51" fill="#fff" stroke="#b0b0b0" stroke-width="0.4"/>
<rect x="660.7" y="212.37" width="7.03" height="1.5" fill="#6a6a6a"/>
<rect x="670.07" y="211.3" width="11.24" height="3.51" fill="#fff" stroke="#b0b0b0" stroke-width="0.4"/>
<rect x="634.94" y="217.06" width="7.03" height="1.5" fill="#6a6a6a"/>
<rect x="644.31" y="215.98" width="11.71" height="3.98" fill="#fff" stroke="#b0b0b0" stroke-width="0.4"/>
<rect x="660.7" y="217.06" width="7.03" height="1.5" fill="#6a6a6a"/>
<rect x="670.07" y="215.98" width="11.24" height="3.98" fill="#fff" stroke="#b0b0b0" stroke-width="0.4"/>
<rect x="679.51" y="217.47" width="1" height="1" fill="#333"/>
<rect x="632.6" y="221.74" width="9.37" height="1.5" fill="#6a6a6a"/>
<rect x="644.31" y="220.67" width="11.71" height="3.98" fill="#fff" stroke="#b0b0b0" stroke-width="0.4"/>
<rect x="654.22" y="222.16" width="1" height="1" fill="#333"/>
<rect x="657.19" y="221.74" width="10.54" height="1.5" fill="#6a6a6a"/>
<rect x="670.07" y="220.67" width="11.24" height="3.98" fill="#fff" stroke="#b0b0b0" stroke-width="0.4"/>
<rect x="652.51" y="227.69" width="12.88" height="3.98" fill="#e2e2e2" stroke="#8c8c8c" stroke-width="0.45"/>
<rect x="656.37" y="229.08" width="5.15" height="1.2" fill="#555"/>
<rect x="667.26" y="227.69" width="14.05" height="3.98" fill="#e2e2e2" stroke="#8c8c8c" stroke-width="0.45"/>
<rect x="671.48" y="229.08" width="5.62" height="1.2" fill="#555"/>
<rect x="632.6" y="235.56" width="9.37" height="1.5" fill="#6a6a6a"/>
<rect x="632.6" y="240.94" width="11.71" height="1.5" fill="#6a6a6a"/>
<rect x="646.65" y="239.4" width="34.66" height="3.98" fill="#fff" stroke="#b0b0b0" stroke-width="0.4"/>
<rect x="679.51" y="240.89" width="1" height="1" fill="#333"/>
<rect x="652.51" y="244.56" width="12.88" height="3.98" fill="#e2e2e2" stroke="#8c8c8c" stroke-width="0.45"/>
<rect x="656.37" y="245.95" width="5.15" height="1.2" fill="#555"/>
<rect x="667.26" y="244.56" width="14.05" height="3.98" fill="#e2e2e2" stroke="#8c8c8c" stroke-width="0.45"/>
<rect x="671.48" y="245.95" width="5.62" height="1.2" fill="#555"/>
<rect x="652.51" y="263.99" width="12.88" height="4.22" fill="#e2e2e2" stroke="#8c8c8c" stroke-width="0.45"/>
<rect x="656.37" y="265.5" width="5.15" height="1.2" fill="#555"/>
<rect x="667.26" y="263.99" width="14.05" height="4.22" fill="#e2e2e2" stroke="#8c8c8c" stroke-width="0.45"/>
<rect x="671.48" y="265.5" width="5.62" height="1.2" fill="#555"/>
<rect x="686.46" y="202.3" width="9.37" height="1.5" fill="#6a6a6a"/>
<rect x="687.63" y="217.15" width="12.88" height="4.22" fill="#e2e2e2" stroke="#8c8c8c" stroke-width="0.45"/>
<rect x="691.5" y="218.66" width="5.15" height="1.2" fill="#555"/>
<rect x="714.57" y="217.15" width="14.05" height="4.22" fill="#e2e2e2" stroke="#8c8c8c" stroke-width="0.45"/>
<rect x="718.78" y="218.66" width="5.62" height="1.2" fill="#555"/>
<rect x="686.46" y="235.56" width="9.37" height="1.5" fill="#6a6a6a"/>
<rect x="689.98" y="240.71" width="8.2" height="1.5" fill="#6a6a6a"/>
<rect x="699.34" y="239.4" width="28.1" height="3.51" fill="#fff" stroke="#b0b0b0" stroke-width="0.4"/>
<rect x="725.65" y="240.66" width="1" height="1" fill="#333"/>
<rect x="689.98" y="244.93" width="8.2" height="1.5" fill="#6a6a6a"/>
<rect x="699.34" y="243.62" width="28.1" height="3.51" fill="#fff" stroke="#b0b0b0" stroke-width="0.4"/>
<rect x="689.98" y="249.14" width="8.2" height="1.5" fill="#6a6a6a"/>
<rect x="699.34" y="247.83" width="28.1" height="3.51" fill="#fff" stroke="#b0b0b0" stroke-width="0.4"/>
<rect x="689.98" y="253.36" width="8.2" height="1.5" fill="#6a6a6a"/>
<rect x="699.34" y="252.05" width="28.1" height="3.51" fill="#fff" stroke="#b0b0b0" stroke-width="0.4"/>
<rect x="689.98" y="257.57" width="8.2" height="1.5" fill="#6a6a6a"/>
<rect x="699.34" y="256.26" width="28.1" height="3.51" fill="#fff" stroke="#b0b0b0" stroke-width="0.4"/>
<rect x="699.34" y="263.99" width="14.05" height="4.22" fill="#e2e2e2" stroke="#8c8c8c" stroke-width="0.45"/>
<rect x="703.56" y="265.5" width="5.62" height="1.2" fill="#555"/>
<rect x="714.57" y="263.99" width="14.05" height="4.22" fill="#e2e2e2" stroke="#8c8c8c" stroke-width="0.45"/>
<rect x="718.78" y="265.5" width="5.62" height="1.2" fill="#555"/>
<rect x="686.46" y="273.03" width="14.05" height="1.5" fill="#6a6a6a"/>
<rect x="701.69" y="272.19" width="26.93" height="3.51" fill="#fff" stroke="#b0b0b0" stroke-width="0.4"/>
<rect x="686.46" y="278.42" width="14.05" height="1.5" fill="#6a6a6a"/>
<rect x="701.69" y="277.58" width="11.71" height="3.28" fill="#fff" stroke="#b0b0b0" stroke-width="0.4"/>
<rect x="711.6" y="278.72" width="1" height="1" fill="#333"/>
<rect x="715.04" y="277.58" width="13.58" height="3.28" fill="#e2e2e2" stroke="#8c8c8c" stroke-width="0.45"/>
<rect x="719.11" y="278.62" width="5.43" height="1.2" fill="#555"/>
<rect x="721.59" y="282.73" width="8.9" height="3.51" fill="#fff" stroke="#b0b0b0" stroke-width="0.4"/>
<rect x="728.69" y="283.98" width="1" height="1" fill="#333"/>
<line x1="634" y1="201" x2="634" y2="276" stroke="#d8d8d8" stroke-width="0.5"/><line x1="685" y1="201" x2="685" y2="276" stroke="#d8d8d8" stroke-width="0.5"/>
<defs><linearGradient id="bodyg" x1="0" y1="0" x2="1" y2="0"><stop offset="0" stop-color="#222"/><stop offset="0.5" stop-color="#161616"/><stop offset="1" stop-color="#1e1e1e"/></linearGradient><linearGradient id="scrg" x1="0" y1="0" x2="1" y2="1"><stop offset="0" stop-color="#cfcfd1"/><stop offset="0.45" stop-color="#e6e6e8"/><stop offset="1" stop-color="#d4d6dc"/></linearGradient></defs>
<path d="M553,1080.3 H652.6 Q659.6,1080.6 660.2,1088 L669.8,1249 Q670,1258.5 661,1258.5 H548 Q539,1258.5 539.2,1249 L546.2,1088 Q546.8,1080.6 553,1080.3 Z" fill="url(#bodyg)"/>
<path d="M561.4,1092.5 Q561.6,1090.4 564,1090.4 H646 Q648.4,1090.4 648.5,1092.5 V1213 Q648.5,1215 646,1215 H564 Q561.4,1215 561.4,1213 Z" fill="#0f0f10" stroke="#3a3a3a" stroke-width="0.8"/>
<rect x="564.6" y="1095" width="79" height="101" fill="#141414"/>
<rect x="565.1" y="1098.5" width="78.1" height="96.9" fill="url(#scrg)"/>
<path d="M599.3,1098.5 Q600,1100.6 602,1100.6 H604 Q606,1100.6 606.7,1098.5 Z" fill="#141414"/>
<rect x="600.5" y="1095.8" width="5" height="1.6" fill="#8a8a8a"/>
<rect x="568" y="1096" width="2" height="1.2" fill="#888"/><rect x="638" y="1096" width="2.5" height="1.2" fill="#888"/>
<g transform="translate(579.6,1112.5)"><circle r="4.6" fill="none" stroke="#4b9ca2" stroke-width="2.4"/><rect x="-2.6" y="-2.6" width="5.2" height="5.2" transform="rotate(45)" fill="#e6e6e8"/><circle cx="-4.2" cy="-4.2" r="1.4" fill="#4b9ca2"/><circle cx="4.2" cy="-4.2" r="1.4" fill="#4b9ca2"/></g>
<g><rect x="597.5" y="1107.2" width="5.4" height="5.2" fill="#e9a35a"/><rect x="603.7" y="1107.2" width="5.4" height="5.2" fill="#e9a35a"/><rect x="597.5" y="1113.2" width="5.4" height="5.2" fill="#e9a35a"/><rect x="603.7" y="1113.2" width="5.4" height="5.2" fill="#c9c9c9"/></g>
<g><rect x="621.5" y="1107.5" width="8.5" height="7" fill="#151a14"/><path d="M622.5,1111.5 L624.5,1110 L626,1112.5 L629,1109.5" stroke="#48c048" stroke-width="0.8" fill="none"/><path d="M625.5,1114 L631.8,1112 L630.5,1117 L626.5,1118 Z" fill="#d0304a"/></g>
<rect x="576" y="1120.2" width="8" height="1.4" fill="#555"/>
<rect x="598" y="1120.2" width="10" height="1.4" fill="#555"/>
<rect x="622" y="1120.2" width="9" height="1.4" fill="#555"/>
<rect x="625" y="1122.8" width="4" height="1.3" fill="#666"/>
<g><path d="M575.5,1135.4 H581 L583.5,1138 V1146.5 H575.5 Z" fill="#f6f6f6" stroke="#d8d8d8" stroke-width="0.3"/><rect x="574" y="1139" width="10.6" height="4.8" rx="1.2" fill="#d8283e"/><text x="575" y="1142.9" font-size="3.8" font-weight="bold" fill="#fff" textLength="8.6" lengthAdjust="spacingAndGlyphs">PDF</text></g>
<circle cx="603.3" cy="1141" r="4.6" fill="#3ea2cc"/><path d="M601.8,1139.6 Q601.8,1137.8 603.3,1137.8 Q604.9,1137.8 604.9,1139.4 Q604.9,1140.6 603.4,1141.2 V1142.2" stroke="#fff" stroke-width="1" fill="none"/><circle cx="603.4" cy="1143.7" r="0.6" fill="#fff"/>
<g><rect x="622.8" y="1135.6" width="8.5" height="8.8" fill="#25344a"/><rect x="622.8" y="1144.2" width="8.5" height="2" fill="#b8c0cc"/><path d="M624,1137.5 L625.5,1142 L627,1137.5 M628,1137.5 V1142 H630" stroke="#fff" stroke-width="0.9" fill="none"/></g>
<rect x="577" y="1149" width="5" height="1.2" fill="#666"/>
<rect x="576" y="1151.8" width="7" height="1.2" fill="#666"/>
<rect x="601" y="1149" width="5" height="1.2" fill="#666"/>
<rect x="601" y="1151.8" width="5" height="1.2" fill="#666"/>
<rect x="621" y="1149" width="10" height="1.2" fill="#666"/>
<rect x="622" y="1151.8" width="8" height="1.2" fill="#666"/>
<g><rect x="574.2" y="1165.6" width="9.8" height="11.2" fill="#e0b060"/><rect x="575.2" y="1166.6" width="7.8" height="9.2" fill="#111"/><path d="M575.6,1169.3 L577.5,1168.5 L579,1170 L582.6,1168.8" stroke="#40c040" stroke-width="0.7" fill="none"/><rect x="575.6" y="1172.6" width="7" height="2.2" fill="#3a8a3a"/></g>
<circle cx="603.5" cy="1171.5" r="4.3" fill="none" stroke="#a8a8ae" stroke-width="1"/>
<rect x="574.5" y="1180" width="9" height="1.4" fill="#555"/><rect x="601.5" y="1180" width="4.5" height="1.4" fill="#666"/>
<rect x="603" y="1193.6" width="1.2" height="1.2" fill="#fff"/>
<rect x="562.4" y="1197.8" width="84" height="1.3" fill="#d9782e"/>
<path d="M604.2,1200.3 Q602.4,1203 603.5,1205.5 Q605.5,1203.5 604.2,1200.3 Z" fill="#e8e8e8"/>
<text x="592.5" y="1211.8" font-size="4.4" fill="#e8e8e8" font-family="Liberation Serif, serif" textLength="23.5" lengthAdjust="spacingAndGlyphs">EMERSON</text>
<path d="M591.5,1222 H618.5 Q620.5,1222 620.5,1224 V1243.3 Q620.5,1245.3 618.5,1245.3 H591.5 Q589.6,1245.3 589.6,1243.3 V1224 Q589.6,1222 591.5,1222 Z" fill="#bdbdb9"/>
<path d="M590.5,1223 L619.6,1244.3 M619.6,1223 L590.5,1244.3" stroke="#a6a6a4" stroke-width="0.8"/>
<path d="M603.6,1226.2 L605,1224.8 L606.4,1226.2 M603.6,1241.6 L605,1243 L606.4,1241.6 M594.8,1232.5 L593.4,1233.8 L594.8,1235.1 M615.3,1232.5 L616.7,1233.8 L615.3,1235.1" stroke="#3a4fa0" stroke-width="1.3" fill="none"/>
<rect x="575.6" y="1229" width="10.1" height="10.2" rx="1.5" fill="#b9b9b7"/><path d="M579.3,1232.7 L582,1235.4 M582,1232.7 L579.3,1235.4" stroke="#3a4fa0" stroke-width="1"/>
<rect x="624.2" y="1228" width="10.1" height="10.2" rx="1.5" fill="#b9b9b7"/><path d="M627.3,1233.3 L628.8,1234.8 L631.2,1231.6" stroke="#3a4fa0" stroke-width="1" fill="none"/></svg></body></html>
